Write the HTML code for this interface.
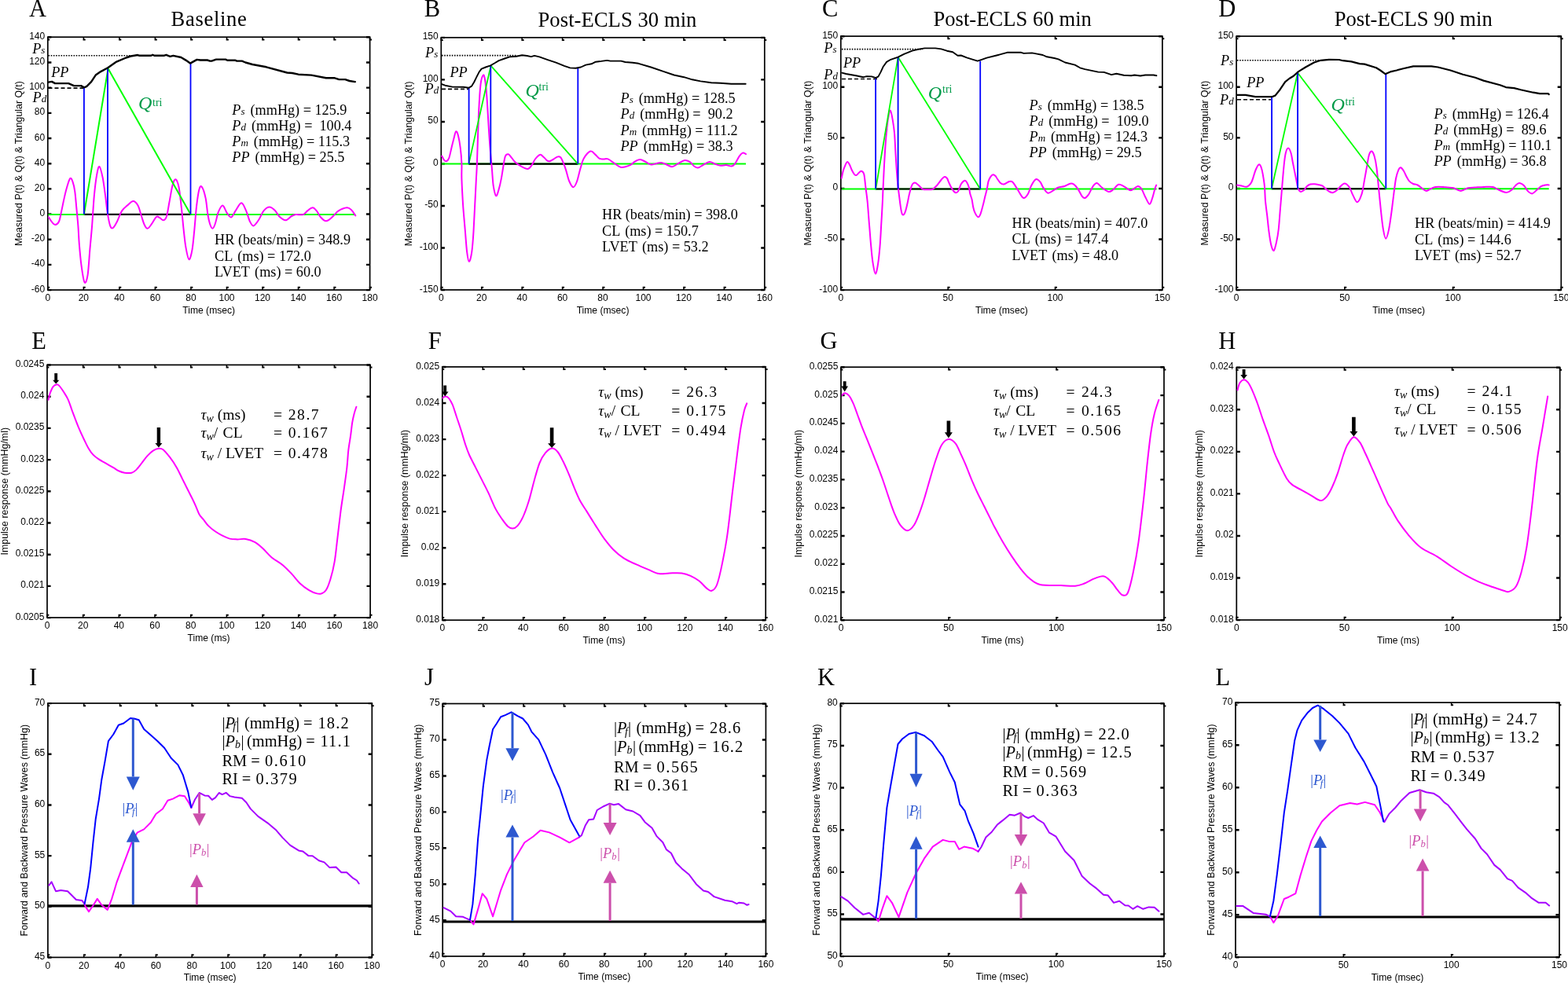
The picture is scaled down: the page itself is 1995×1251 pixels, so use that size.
<!DOCTYPE html>
<html><head><meta charset="utf-8"><title>Figure</title>
<style>
html,body{margin:0;padding:0;background:#fff;}
svg{display:block;}
.tk{font-family:"Liberation Sans", Arial, sans-serif;font-size:12px;fill:#000;}
.al{font-family:"Liberation Sans", Arial, sans-serif;font-size:12.1px;fill:#000;}
.yl{font-family:"Liberation Sans", Arial, sans-serif;font-size:12.4px;fill:#000;}
.ti{font-family:"Liberation Serif", "Times New Roman", serif;font-size:26.6px;fill:#000;}
.lt{font-family:"Liberation Serif", "Times New Roman", serif;font-size:30.5px;fill:#000;}
.an{font-family:"Liberation Serif", "Times New Roman", serif;font-size:18.2px;fill:#000;white-space:pre;}
.it{font-style:italic;}
</style></head><body>
<svg width="1995" height="1251" viewBox="0 0 1995 1251">
<rect width="1995" height="1251" fill="#fff"/>
<g id="axA"><rect x="60.8" y="47.2" width="409.8" height="321.8" fill="none" stroke="#000" stroke-width="1.7"/>
<path d="M60,369V364.8H63.2V366.8H61.6V369ZM60,47.2V51.4H63.2V49.4H61.6V47.2ZM105.53,369V364.8H108.73V366.8H107.13V369ZM105.53,47.2V51.4H108.73V49.4H107.13V47.2ZM151.07,369V364.8H154.27V366.8H152.67V369ZM151.07,47.2V51.4H154.27V49.4H152.67V47.2ZM196.6,369V364.8H199.8V366.8H198.2V369ZM196.6,47.2V51.4H199.8V49.4H198.2V47.2ZM242.13,369V364.8H245.33V366.8H243.73V369ZM242.13,47.2V51.4H245.33V49.4H243.73V47.2ZM287.67,369V364.8H290.87V366.8H289.27V369ZM287.67,47.2V51.4H290.87V49.4H289.27V47.2ZM333.2,369V364.8H336.4V366.8H334.8V369ZM333.2,47.2V51.4H336.4V49.4H334.8V47.2ZM378.73,369V364.8H381.93V366.8H380.33V369ZM378.73,47.2V51.4H381.93V49.4H380.33V47.2ZM424.27,369V364.8H427.47V366.8H425.87V369ZM424.27,47.2V51.4H427.47V49.4H425.87V47.2ZM469.8,369V364.8H473V366.8H471.4V369ZM469.8,47.2V51.4H473V49.4H471.4V47.2ZM60.8,367.9H65.4V370.3H60.8ZM470.6,367.9H466V370.3H470.6ZM60.8,335.72H65.4V338.12H60.8ZM470.6,335.72H466V338.12H470.6ZM60.8,303.54H65.4V305.94H60.8ZM470.6,303.54H466V305.94H470.6ZM60.8,271.36H65.4V273.76H60.8ZM470.6,271.36H466V273.76H470.6ZM60.8,239.18H65.4V241.58H60.8ZM470.6,239.18H466V241.58H470.6ZM60.8,207H65.4V209.4H60.8ZM470.6,207H466V209.4H470.6ZM60.8,174.82H65.4V177.22H60.8ZM470.6,174.82H466V177.22H470.6ZM60.8,142.64H65.4V145.04H60.8ZM470.6,142.64H466V145.04H470.6ZM60.8,110.46H65.4V112.86H60.8ZM470.6,110.46H466V112.86H470.6ZM60.8,78.28H65.4V80.68H60.8ZM470.6,78.28H466V80.68H470.6ZM60.8,46.1H65.4V48.5H60.8ZM470.6,46.1H466V48.5H470.6Z" fill="#000"/>
<text x="60.8" y="383.2" text-anchor="middle" class="tk">0</text>
<text x="106.33" y="383.2" text-anchor="middle" class="tk">20</text>
<text x="151.87" y="383.2" text-anchor="middle" class="tk">40</text>
<text x="197.4" y="383.2" text-anchor="middle" class="tk">60</text>
<text x="242.93" y="383.2" text-anchor="middle" class="tk">80</text>
<text x="288.47" y="383.2" text-anchor="middle" class="tk">100</text>
<text x="334" y="383.2" text-anchor="middle" class="tk">120</text>
<text x="379.53" y="383.2" text-anchor="middle" class="tk">140</text>
<text x="425.07" y="383.2" text-anchor="middle" class="tk">160</text>
<text x="470.6" y="383.2" text-anchor="middle" class="tk">180</text>
<text x="57.2" y="371.6" text-anchor="end" class="tk">-60</text>
<text x="57.2" y="339.42" text-anchor="end" class="tk">-40</text>
<text x="57.2" y="307.24" text-anchor="end" class="tk">-20</text>
<text x="57.2" y="275.06" text-anchor="end" class="tk">0</text>
<text x="57.2" y="242.88" text-anchor="end" class="tk">20</text>
<text x="57.2" y="210.7" text-anchor="end" class="tk">40</text>
<text x="57.2" y="178.52" text-anchor="end" class="tk">60</text>
<text x="57.2" y="146.34" text-anchor="end" class="tk">80</text>
<text x="57.2" y="114.16" text-anchor="end" class="tk">100</text>
<text x="57.2" y="81.98" text-anchor="end" class="tk">120</text>
<text x="57.2" y="49.8" text-anchor="end" class="tk">140</text>
<text x="265.7" y="398.6" text-anchor="middle" class="al">Time (msec)</text>
<text transform="translate(27.8,208.1) rotate(-90)" text-anchor="middle" class="yl">Measured P(t) &amp; Q(t) &amp; Triangular Q(t)</text></g>
<g id="axB"><rect x="561.3" y="47.8" width="411.5" height="321.1" fill="none" stroke="#000" stroke-width="1.7"/>
<path d="M560.5,368.9V364.7H563.7V366.7H562.1V368.9ZM560.5,47.8V52H563.7V50H562.1V47.8ZM611.94,368.9V364.7H615.14V366.7H613.54V368.9ZM611.94,47.8V52H615.14V50H613.54V47.8ZM663.38,368.9V364.7H666.57V366.7H664.97V368.9ZM663.38,47.8V52H666.57V50H664.97V47.8ZM714.81,368.9V364.7H718.01V366.7H716.41V368.9ZM714.81,47.8V52H718.01V50H716.41V47.8ZM766.25,368.9V364.7H769.45V366.7H767.85V368.9ZM766.25,47.8V52H769.45V50H767.85V47.8ZM817.69,368.9V364.7H820.89V366.7H819.29V368.9ZM817.69,47.8V52H820.89V50H819.29V47.8ZM869.12,368.9V364.7H872.32V366.7H870.72V368.9ZM869.12,47.8V52H872.32V50H870.72V47.8ZM920.56,368.9V364.7H923.76V366.7H922.16V368.9ZM920.56,47.8V52H923.76V50H922.16V47.8ZM972,368.9V364.7H975.2V366.7H973.6V368.9ZM972,47.8V52H975.2V50H973.6V47.8ZM561.3,367.8H565.9V370.2H561.3ZM972.8,367.8H968.2V370.2H972.8ZM561.3,314.28H565.9V316.68H561.3ZM972.8,314.28H968.2V316.68H972.8ZM561.3,260.77H565.9V263.17H561.3ZM972.8,260.77H968.2V263.17H972.8ZM561.3,207.25H565.9V209.65H561.3ZM972.8,207.25H968.2V209.65H972.8ZM561.3,153.73H565.9V156.13H561.3ZM972.8,153.73H968.2V156.13H972.8ZM561.3,100.22H565.9V102.62H561.3ZM972.8,100.22H968.2V102.62H972.8ZM561.3,46.7H565.9V49.1H561.3ZM972.8,46.7H968.2V49.1H972.8Z" fill="#000"/>
<text x="561.3" y="383.1" text-anchor="middle" class="tk">0</text>
<text x="612.74" y="383.1" text-anchor="middle" class="tk">20</text>
<text x="664.17" y="383.1" text-anchor="middle" class="tk">40</text>
<text x="715.61" y="383.1" text-anchor="middle" class="tk">60</text>
<text x="767.05" y="383.1" text-anchor="middle" class="tk">80</text>
<text x="818.49" y="383.1" text-anchor="middle" class="tk">100</text>
<text x="869.92" y="383.1" text-anchor="middle" class="tk">120</text>
<text x="921.36" y="383.1" text-anchor="middle" class="tk">140</text>
<text x="972.8" y="383.1" text-anchor="middle" class="tk">160</text>
<text x="557.7" y="371.5" text-anchor="end" class="tk">-150</text>
<text x="557.7" y="317.98" text-anchor="end" class="tk">-100</text>
<text x="557.7" y="264.47" text-anchor="end" class="tk">-50</text>
<text x="557.7" y="210.95" text-anchor="end" class="tk">0</text>
<text x="557.7" y="157.43" text-anchor="end" class="tk">50</text>
<text x="557.7" y="103.92" text-anchor="end" class="tk">100</text>
<text x="557.7" y="50.4" text-anchor="end" class="tk">150</text>
<text x="767.05" y="398.5" text-anchor="middle" class="al">Time (msec)</text>
<text transform="translate(524.1,208.35) rotate(-90)" text-anchor="middle" class="yl">Measured P(t) &amp; Q(t) &amp; Triangular Q(t)</text></g>
<g id="axC"><rect x="1069.8" y="46.1" width="409.1" height="322.9" fill="none" stroke="#000" stroke-width="1.7"/>
<path d="M1069,369V364.8H1072.2V366.8H1070.6V369ZM1069,46.1V50.3H1072.2V48.3H1070.6V46.1ZM1205.37,369V364.8H1208.57V366.8H1206.97V369ZM1205.37,46.1V50.3H1208.57V48.3H1206.97V46.1ZM1341.73,369V364.8H1344.93V366.8H1343.33V369ZM1341.73,46.1V50.3H1344.93V48.3H1343.33V46.1ZM1478.1,369V364.8H1481.3V366.8H1479.7V369ZM1478.1,46.1V50.3H1481.3V48.3H1479.7V46.1ZM1069.8,367.9H1074.4V370.3H1069.8ZM1478.9,367.9H1474.3V370.3H1478.9ZM1069.8,303.32H1074.4V305.72H1069.8ZM1478.9,303.32H1474.3V305.72H1478.9ZM1069.8,238.74H1074.4V241.14H1069.8ZM1478.9,238.74H1474.3V241.14H1478.9ZM1069.8,174.16H1074.4V176.56H1069.8ZM1478.9,174.16H1474.3V176.56H1478.9ZM1069.8,109.58H1074.4V111.98H1069.8ZM1478.9,109.58H1474.3V111.98H1478.9ZM1069.8,45H1074.4V47.4H1069.8ZM1478.9,45H1474.3V47.4H1478.9Z" fill="#000"/>
<text x="1069.8" y="383.2" text-anchor="middle" class="tk">0</text>
<text x="1206.17" y="383.2" text-anchor="middle" class="tk">50</text>
<text x="1342.53" y="383.2" text-anchor="middle" class="tk">100</text>
<text x="1478.9" y="383.2" text-anchor="middle" class="tk">150</text>
<text x="1066.2" y="371.6" text-anchor="end" class="tk">-100</text>
<text x="1066.2" y="307.02" text-anchor="end" class="tk">-50</text>
<text x="1066.2" y="242.44" text-anchor="end" class="tk">0</text>
<text x="1066.2" y="177.86" text-anchor="end" class="tk">50</text>
<text x="1066.2" y="113.28" text-anchor="end" class="tk">100</text>
<text x="1066.2" y="48.7" text-anchor="end" class="tk">150</text>
<text x="1274.35" y="398.6" text-anchor="middle" class="al">Time (msec)</text>
<text transform="translate(1032.4,207.55) rotate(-90)" text-anchor="middle" class="yl">Measured P(t) &amp; Q(t) &amp; Triangular Q(t)</text></g>
<g id="axD"><rect x="1573.1" y="46.1" width="413.2" height="322.9" fill="none" stroke="#000" stroke-width="1.7"/>
<path d="M1572.3,369V364.8H1575.5V366.8H1573.9V369ZM1572.3,46.1V50.3H1575.5V48.3H1573.9V46.1ZM1710.03,369V364.8H1713.23V366.8H1711.63V369ZM1710.03,46.1V50.3H1713.23V48.3H1711.63V46.1ZM1847.77,369V364.8H1850.97V366.8H1849.37V369ZM1847.77,46.1V50.3H1850.97V48.3H1849.37V46.1ZM1985.5,369V364.8H1988.7V366.8H1987.1V369ZM1985.5,46.1V50.3H1988.7V48.3H1987.1V46.1ZM1573.1,367.9H1577.7V370.3H1573.1ZM1986.3,367.9H1981.7V370.3H1986.3ZM1573.1,303.32H1577.7V305.72H1573.1ZM1986.3,303.32H1981.7V305.72H1986.3ZM1573.1,238.74H1577.7V241.14H1573.1ZM1986.3,238.74H1981.7V241.14H1986.3ZM1573.1,174.16H1577.7V176.56H1573.1ZM1986.3,174.16H1981.7V176.56H1986.3ZM1573.1,109.58H1577.7V111.98H1573.1ZM1986.3,109.58H1981.7V111.98H1986.3ZM1573.1,45H1577.7V47.4H1573.1ZM1986.3,45H1981.7V47.4H1986.3Z" fill="#000"/>
<text x="1573.1" y="383.2" text-anchor="middle" class="tk">0</text>
<text x="1710.83" y="383.2" text-anchor="middle" class="tk">50</text>
<text x="1848.57" y="383.2" text-anchor="middle" class="tk">100</text>
<text x="1986.3" y="383.2" text-anchor="middle" class="tk">150</text>
<text x="1569.5" y="371.6" text-anchor="end" class="tk">-100</text>
<text x="1569.5" y="307.02" text-anchor="end" class="tk">-50</text>
<text x="1569.5" y="242.44" text-anchor="end" class="tk">0</text>
<text x="1569.5" y="177.86" text-anchor="end" class="tk">50</text>
<text x="1569.5" y="113.28" text-anchor="end" class="tk">100</text>
<text x="1569.5" y="48.7" text-anchor="end" class="tk">150</text>
<text x="1779.7" y="398.6" text-anchor="middle" class="al">Time (msec)</text>
<text transform="translate(1537,207.55) rotate(-90)" text-anchor="middle" class="yl">Measured P(t) &amp; Q(t) &amp; Triangular Q(t)</text></g>
<g id="axE"><rect x="60" y="464.4" width="411.1" height="321.6" fill="none" stroke="#000" stroke-width="1.7"/>
<path d="M59.2,786V781.8H62.4V783.8H60.8V786ZM59.2,464.4V468.6H62.4V466.6H60.8V464.4ZM104.88,786V781.8H108.08V783.8H106.48V786ZM104.88,464.4V468.6H108.08V466.6H106.48V464.4ZM150.56,786V781.8H153.76V783.8H152.16V786ZM150.56,464.4V468.6H153.76V466.6H152.16V464.4ZM196.23,786V781.8H199.43V783.8H197.83V786ZM196.23,464.4V468.6H199.43V466.6H197.83V464.4ZM241.91,786V781.8H245.11V783.8H243.51V786ZM241.91,464.4V468.6H245.11V466.6H243.51V464.4ZM287.59,786V781.8H290.79V783.8H289.19V786ZM287.59,464.4V468.6H290.79V466.6H289.19V464.4ZM333.27,786V781.8H336.47V783.8H334.87V786ZM333.27,464.4V468.6H336.47V466.6H334.87V464.4ZM378.94,786V781.8H382.14V783.8H380.54V786ZM378.94,464.4V468.6H382.14V466.6H380.54V464.4ZM424.62,786V781.8H427.82V783.8H426.22V786ZM424.62,464.4V468.6H427.82V466.6H426.22V464.4ZM470.3,786V781.8H473.5V783.8H471.9V786ZM470.3,464.4V468.6H473.5V466.6H471.9V464.4ZM60,784.9H64.6V787.3H60ZM471.1,784.9H466.5V787.3H471.1ZM60,744.7H64.6V747.1H60ZM471.1,744.7H466.5V747.1H471.1ZM60,704.5H64.6V706.9H60ZM471.1,704.5H466.5V706.9H471.1ZM60,664.3H64.6V666.7H60ZM471.1,664.3H466.5V666.7H471.1ZM60,624.1H64.6V626.5H60ZM471.1,624.1H466.5V626.5H471.1ZM60,583.9H64.6V586.3H60ZM471.1,583.9H466.5V586.3H471.1ZM60,543.7H64.6V546.1H60ZM471.1,543.7H466.5V546.1H471.1ZM60,503.5H64.6V505.9H60ZM471.1,503.5H466.5V505.9H471.1ZM60,463.3H64.6V465.7H60ZM471.1,463.3H466.5V465.7H471.1Z" fill="#000"/>
<text x="60" y="800.2" text-anchor="middle" class="tk">0</text>
<text x="105.68" y="800.2" text-anchor="middle" class="tk">20</text>
<text x="151.36" y="800.2" text-anchor="middle" class="tk">40</text>
<text x="197.03" y="800.2" text-anchor="middle" class="tk">60</text>
<text x="242.71" y="800.2" text-anchor="middle" class="tk">80</text>
<text x="288.39" y="800.2" text-anchor="middle" class="tk">100</text>
<text x="334.07" y="800.2" text-anchor="middle" class="tk">120</text>
<text x="379.74" y="800.2" text-anchor="middle" class="tk">140</text>
<text x="425.42" y="800.2" text-anchor="middle" class="tk">160</text>
<text x="471.1" y="800.2" text-anchor="middle" class="tk">180</text>
<text x="56.4" y="788.6" text-anchor="end" class="tk">0.0205</text>
<text x="56.4" y="748.4" text-anchor="end" class="tk">0.021</text>
<text x="56.4" y="708.2" text-anchor="end" class="tk">0.0215</text>
<text x="56.4" y="668" text-anchor="end" class="tk">0.022</text>
<text x="56.4" y="627.8" text-anchor="end" class="tk">0.0225</text>
<text x="56.4" y="587.6" text-anchor="end" class="tk">0.023</text>
<text x="56.4" y="547.4" text-anchor="end" class="tk">0.0235</text>
<text x="56.4" y="507.2" text-anchor="end" class="tk">0.024</text>
<text x="56.4" y="467" text-anchor="end" class="tk">0.0245</text>
<text x="265.55" y="815.6" text-anchor="middle" class="al">Time (ms)</text>
<text transform="translate(9.9,625.2) rotate(-90)" text-anchor="middle" class="yl">Impulse response (mmHg/ml)</text></g>
<g id="axF"><rect x="562.8" y="466.9" width="411.4" height="322.3" fill="none" stroke="#000" stroke-width="1.7"/>
<path d="M562,789.2V785H565.2V787H563.6V789.2ZM562,466.9V471.1H565.2V469.1H563.6V466.9ZM613.42,789.2V785H616.62V787H615.02V789.2ZM613.42,466.9V471.1H616.62V469.1H615.02V466.9ZM664.85,789.2V785H668.05V787H666.45V789.2ZM664.85,466.9V471.1H668.05V469.1H666.45V466.9ZM716.28,789.2V785H719.48V787H717.88V789.2ZM716.28,466.9V471.1H719.48V469.1H717.88V466.9ZM767.7,789.2V785H770.9V787H769.3V789.2ZM767.7,466.9V471.1H770.9V469.1H769.3V466.9ZM819.12,789.2V785H822.32V787H820.72V789.2ZM819.12,466.9V471.1H822.32V469.1H820.72V466.9ZM870.55,789.2V785H873.75V787H872.15V789.2ZM870.55,466.9V471.1H873.75V469.1H872.15V466.9ZM921.98,789.2V785H925.18V787H923.58V789.2ZM921.98,466.9V471.1H925.18V469.1H923.58V466.9ZM973.4,789.2V785H976.6V787H975V789.2ZM973.4,466.9V471.1H976.6V469.1H975V466.9ZM562.8,788.1H567.4V790.5H562.8ZM974.2,788.1H969.6V790.5H974.2ZM562.8,742.06H567.4V744.46H562.8ZM974.2,742.06H969.6V744.46H974.2ZM562.8,696.01H567.4V698.41H562.8ZM974.2,696.01H969.6V698.41H974.2ZM562.8,649.97H567.4V652.37H562.8ZM974.2,649.97H969.6V652.37H974.2ZM562.8,603.93H567.4V606.33H562.8ZM974.2,603.93H969.6V606.33H974.2ZM562.8,557.89H567.4V560.29H562.8ZM974.2,557.89H969.6V560.29H974.2ZM562.8,511.84H567.4V514.24H562.8ZM974.2,511.84H969.6V514.24H974.2ZM562.8,465.8H567.4V468.2H562.8ZM974.2,465.8H969.6V468.2H974.2Z" fill="#000"/>
<text x="562.8" y="803.4" text-anchor="middle" class="tk">0</text>
<text x="614.22" y="803.4" text-anchor="middle" class="tk">20</text>
<text x="665.65" y="803.4" text-anchor="middle" class="tk">40</text>
<text x="717.08" y="803.4" text-anchor="middle" class="tk">60</text>
<text x="768.5" y="803.4" text-anchor="middle" class="tk">80</text>
<text x="819.92" y="803.4" text-anchor="middle" class="tk">100</text>
<text x="871.35" y="803.4" text-anchor="middle" class="tk">120</text>
<text x="922.78" y="803.4" text-anchor="middle" class="tk">140</text>
<text x="974.2" y="803.4" text-anchor="middle" class="tk">160</text>
<text x="559.2" y="791.8" text-anchor="end" class="tk">0.018</text>
<text x="559.2" y="745.76" text-anchor="end" class="tk">0.019</text>
<text x="559.2" y="699.71" text-anchor="end" class="tk">0.02</text>
<text x="559.2" y="653.67" text-anchor="end" class="tk">0.021</text>
<text x="559.2" y="607.63" text-anchor="end" class="tk">0.022</text>
<text x="559.2" y="561.59" text-anchor="end" class="tk">0.023</text>
<text x="559.2" y="515.54" text-anchor="end" class="tk">0.024</text>
<text x="559.2" y="469.5" text-anchor="end" class="tk">0.025</text>
<text x="768.5" y="818.8" text-anchor="middle" class="al">Time (ms)</text>
<text transform="translate(518.5,628.05) rotate(-90)" text-anchor="middle" class="yl">Impulse response (mmHg/ml)</text></g>
<g id="axG"><rect x="1070" y="467.2" width="411" height="322" fill="none" stroke="#000" stroke-width="1.7"/>
<path d="M1069.2,789.2V785H1072.4V787H1070.8V789.2ZM1069.2,467.2V471.4H1072.4V469.4H1070.8V467.2ZM1206.2,789.2V785H1209.4V787H1207.8V789.2ZM1206.2,467.2V471.4H1209.4V469.4H1207.8V467.2ZM1343.2,789.2V785H1346.4V787H1344.8V789.2ZM1343.2,467.2V471.4H1346.4V469.4H1344.8V467.2ZM1480.2,789.2V785H1483.4V787H1481.8V789.2ZM1480.2,467.2V471.4H1483.4V469.4H1481.8V467.2ZM1070,788.1H1074.6V790.5H1070ZM1481,788.1H1476.4V790.5H1481ZM1070,752.32H1074.6V754.72H1070ZM1481,752.32H1476.4V754.72H1481ZM1070,716.54H1074.6V718.94H1070ZM1481,716.54H1476.4V718.94H1481ZM1070,680.77H1074.6V683.17H1070ZM1481,680.77H1476.4V683.17H1481ZM1070,644.99H1074.6V647.39H1070ZM1481,644.99H1476.4V647.39H1481ZM1070,609.21H1074.6V611.61H1070ZM1481,609.21H1476.4V611.61H1481ZM1070,573.43H1074.6V575.83H1070ZM1481,573.43H1476.4V575.83H1481ZM1070,537.66H1074.6V540.06H1070ZM1481,537.66H1476.4V540.06H1481ZM1070,501.88H1074.6V504.28H1070ZM1481,501.88H1476.4V504.28H1481ZM1070,466.1H1074.6V468.5H1070ZM1481,466.1H1476.4V468.5H1481Z" fill="#000"/>
<text x="1070" y="803.4" text-anchor="middle" class="tk">0</text>
<text x="1207" y="803.4" text-anchor="middle" class="tk">50</text>
<text x="1344" y="803.4" text-anchor="middle" class="tk">100</text>
<text x="1481" y="803.4" text-anchor="middle" class="tk">150</text>
<text x="1066.4" y="791.8" text-anchor="end" class="tk">0.021</text>
<text x="1066.4" y="756.02" text-anchor="end" class="tk">0.0215</text>
<text x="1066.4" y="720.24" text-anchor="end" class="tk">0.022</text>
<text x="1066.4" y="684.47" text-anchor="end" class="tk">0.0225</text>
<text x="1066.4" y="648.69" text-anchor="end" class="tk">0.023</text>
<text x="1066.4" y="612.91" text-anchor="end" class="tk">0.0235</text>
<text x="1066.4" y="577.13" text-anchor="end" class="tk">0.024</text>
<text x="1066.4" y="541.36" text-anchor="end" class="tk">0.0245</text>
<text x="1066.4" y="505.58" text-anchor="end" class="tk">0.025</text>
<text x="1066.4" y="469.8" text-anchor="end" class="tk">0.0255</text>
<text x="1275.5" y="818.8" text-anchor="middle" class="al">Time (ms)</text>
<text transform="translate(1019.6,628.2) rotate(-90)" text-anchor="middle" class="yl">Impulse response (mmHg/ml)</text></g>
<g id="axH"><rect x="1573.3" y="467.6" width="411.4" height="321.4" fill="none" stroke="#000" stroke-width="1.7"/>
<path d="M1572.5,789V784.8H1575.7V786.8H1574.1V789ZM1572.5,467.6V471.8H1575.7V469.8H1574.1V467.6ZM1709.63,789V784.8H1712.83V786.8H1711.23V789ZM1709.63,467.6V471.8H1712.83V469.8H1711.23V467.6ZM1846.77,789V784.8H1849.97V786.8H1848.37V789ZM1846.77,467.6V471.8H1849.97V469.8H1848.37V467.6ZM1983.9,789V784.8H1987.1V786.8H1985.5V789ZM1983.9,467.6V471.8H1987.1V469.8H1985.5V467.6ZM1573.3,787.9H1577.9V790.3H1573.3ZM1984.7,787.9H1980.1V790.3H1984.7ZM1573.3,734.33H1577.9V736.73H1573.3ZM1984.7,734.33H1980.1V736.73H1984.7ZM1573.3,680.77H1577.9V683.17H1573.3ZM1984.7,680.77H1980.1V683.17H1984.7ZM1573.3,627.2H1577.9V629.6H1573.3ZM1984.7,627.2H1980.1V629.6H1984.7ZM1573.3,573.63H1577.9V576.03H1573.3ZM1984.7,573.63H1980.1V576.03H1984.7ZM1573.3,520.07H1577.9V522.47H1573.3ZM1984.7,520.07H1980.1V522.47H1984.7ZM1573.3,466.5H1577.9V468.9H1573.3ZM1984.7,466.5H1980.1V468.9H1984.7Z" fill="#000"/>
<text x="1573.3" y="803.2" text-anchor="middle" class="tk">0</text>
<text x="1710.43" y="803.2" text-anchor="middle" class="tk">50</text>
<text x="1847.57" y="803.2" text-anchor="middle" class="tk">100</text>
<text x="1984.7" y="803.2" text-anchor="middle" class="tk">150</text>
<text x="1569.7" y="791.6" text-anchor="end" class="tk">0.018</text>
<text x="1569.7" y="738.03" text-anchor="end" class="tk">0.019</text>
<text x="1569.7" y="684.47" text-anchor="end" class="tk">0.02</text>
<text x="1569.7" y="630.9" text-anchor="end" class="tk">0.021</text>
<text x="1569.7" y="577.33" text-anchor="end" class="tk">0.022</text>
<text x="1569.7" y="523.77" text-anchor="end" class="tk">0.023</text>
<text x="1569.7" y="470.2" text-anchor="end" class="tk">0.024</text>
<text x="1779" y="818.6" text-anchor="middle" class="al">Time (ms)</text>
<text transform="translate(1529.6,628.3) rotate(-90)" text-anchor="middle" class="yl">Impulse response (mmHg/ml)</text></g>
<g id="axI"><rect x="60.9" y="895" width="412.4" height="323.4" fill="none" stroke="#000" stroke-width="1.7"/>
<path d="M60.1,1218.4V1214.2H63.3V1216.2H61.7V1218.4ZM60.1,895V899.2H63.3V897.2H61.7V895ZM105.92,1218.4V1214.2H109.12V1216.2H107.52V1218.4ZM105.92,895V899.2H109.12V897.2H107.52V895ZM151.74,1218.4V1214.2H154.94V1216.2H153.34V1218.4ZM151.74,895V899.2H154.94V897.2H153.34V895ZM197.57,1218.4V1214.2H200.77V1216.2H199.17V1218.4ZM197.57,895V899.2H200.77V897.2H199.17V895ZM243.39,1218.4V1214.2H246.59V1216.2H244.99V1218.4ZM243.39,895V899.2H246.59V897.2H244.99V895ZM289.21,1218.4V1214.2H292.41V1216.2H290.81V1218.4ZM289.21,895V899.2H292.41V897.2H290.81V895ZM335.03,1218.4V1214.2H338.23V1216.2H336.63V1218.4ZM335.03,895V899.2H338.23V897.2H336.63V895ZM380.86,1218.4V1214.2H384.06V1216.2H382.46V1218.4ZM380.86,895V899.2H384.06V897.2H382.46V895ZM426.68,1218.4V1214.2H429.88V1216.2H428.28V1218.4ZM426.68,895V899.2H429.88V897.2H428.28V895ZM472.5,1218.4V1214.2H475.7V1216.2H474.1V1218.4ZM472.5,895V899.2H475.7V897.2H474.1V895ZM60.9,1217.3H65.5V1219.7H60.9ZM473.3,1217.3H468.7V1219.7H473.3ZM60.9,1152.62H65.5V1155.02H60.9ZM473.3,1152.62H468.7V1155.02H473.3ZM60.9,1087.94H65.5V1090.34H60.9ZM473.3,1087.94H468.7V1090.34H473.3ZM60.9,1023.26H65.5V1025.66H60.9ZM473.3,1023.26H468.7V1025.66H473.3ZM60.9,958.58H65.5V960.98H60.9ZM473.3,958.58H468.7V960.98H473.3ZM60.9,893.9H65.5V896.3H60.9ZM473.3,893.9H468.7V896.3H473.3Z" fill="#000"/>
<text x="60.9" y="1232.6" text-anchor="middle" class="tk">0</text>
<text x="106.72" y="1232.6" text-anchor="middle" class="tk">20</text>
<text x="152.54" y="1232.6" text-anchor="middle" class="tk">40</text>
<text x="198.37" y="1232.6" text-anchor="middle" class="tk">60</text>
<text x="244.19" y="1232.6" text-anchor="middle" class="tk">80</text>
<text x="290.01" y="1232.6" text-anchor="middle" class="tk">100</text>
<text x="335.83" y="1232.6" text-anchor="middle" class="tk">120</text>
<text x="381.66" y="1232.6" text-anchor="middle" class="tk">140</text>
<text x="427.48" y="1232.6" text-anchor="middle" class="tk">160</text>
<text x="473.3" y="1232.6" text-anchor="middle" class="tk">180</text>
<text x="57.3" y="1221" text-anchor="end" class="tk">45</text>
<text x="57.3" y="1156.32" text-anchor="end" class="tk">50</text>
<text x="57.3" y="1091.64" text-anchor="end" class="tk">55</text>
<text x="57.3" y="1026.96" text-anchor="end" class="tk">60</text>
<text x="57.3" y="962.28" text-anchor="end" class="tk">65</text>
<text x="57.3" y="897.6" text-anchor="end" class="tk">70</text>
<text x="267.1" y="1248" text-anchor="middle" class="al">Time (msec)</text>
<text transform="translate(34.6,1056.7) rotate(-90)" text-anchor="middle" class="yl">Forward and Backward Pressure Waves (mmHg)</text></g>
<g id="axJ"><rect x="563.2" y="895.5" width="411.2" height="321.5" fill="none" stroke="#000" stroke-width="1.7"/>
<path d="M562.4,1217V1212.8H565.6V1214.8H564V1217ZM562.4,895.5V899.7H565.6V897.7H564V895.5ZM613.8,1217V1212.8H617V1214.8H615.4V1217ZM613.8,895.5V899.7H617V897.7H615.4V895.5ZM665.2,1217V1212.8H668.4V1214.8H666.8V1217ZM665.2,895.5V899.7H668.4V897.7H666.8V895.5ZM716.6,1217V1212.8H719.8V1214.8H718.2V1217ZM716.6,895.5V899.7H719.8V897.7H718.2V895.5ZM768,1217V1212.8H771.2V1214.8H769.6V1217ZM768,895.5V899.7H771.2V897.7H769.6V895.5ZM819.4,1217V1212.8H822.6V1214.8H821V1217ZM819.4,895.5V899.7H822.6V897.7H821V895.5ZM870.8,1217V1212.8H874V1214.8H872.4V1217ZM870.8,895.5V899.7H874V897.7H872.4V895.5ZM922.2,1217V1212.8H925.4V1214.8H923.8V1217ZM922.2,895.5V899.7H925.4V897.7H923.8V895.5ZM973.6,1217V1212.8H976.8V1214.8H975.2V1217ZM973.6,895.5V899.7H976.8V897.7H975.2V895.5ZM563.2,1215.9H567.8V1218.3H563.2ZM974.4,1215.9H969.8V1218.3H974.4ZM563.2,1169.97H567.8V1172.37H563.2ZM974.4,1169.97H969.8V1172.37H974.4ZM563.2,1124.04H567.8V1126.44H563.2ZM974.4,1124.04H969.8V1126.44H974.4ZM563.2,1078.11H567.8V1080.51H563.2ZM974.4,1078.11H969.8V1080.51H974.4ZM563.2,1032.19H567.8V1034.59H563.2ZM974.4,1032.19H969.8V1034.59H974.4ZM563.2,986.26H567.8V988.66H563.2ZM974.4,986.26H969.8V988.66H974.4ZM563.2,940.33H567.8V942.73H563.2ZM974.4,940.33H969.8V942.73H974.4ZM563.2,894.4H567.8V896.8H563.2ZM974.4,894.4H969.8V896.8H974.4Z" fill="#000"/>
<text x="563.2" y="1231.2" text-anchor="middle" class="tk">0</text>
<text x="614.6" y="1231.2" text-anchor="middle" class="tk">20</text>
<text x="666" y="1231.2" text-anchor="middle" class="tk">40</text>
<text x="717.4" y="1231.2" text-anchor="middle" class="tk">60</text>
<text x="768.8" y="1231.2" text-anchor="middle" class="tk">80</text>
<text x="820.2" y="1231.2" text-anchor="middle" class="tk">100</text>
<text x="871.6" y="1231.2" text-anchor="middle" class="tk">120</text>
<text x="923" y="1231.2" text-anchor="middle" class="tk">140</text>
<text x="974.4" y="1231.2" text-anchor="middle" class="tk">160</text>
<text x="559.6" y="1219.6" text-anchor="end" class="tk">40</text>
<text x="559.6" y="1173.67" text-anchor="end" class="tk">45</text>
<text x="559.6" y="1127.74" text-anchor="end" class="tk">50</text>
<text x="559.6" y="1081.81" text-anchor="end" class="tk">55</text>
<text x="559.6" y="1035.89" text-anchor="end" class="tk">60</text>
<text x="559.6" y="989.96" text-anchor="end" class="tk">65</text>
<text x="559.6" y="944.03" text-anchor="end" class="tk">70</text>
<text x="559.6" y="898.1" text-anchor="end" class="tk">75</text>
<text x="768.8" y="1246.6" text-anchor="middle" class="al">Time (msec)</text>
<text transform="translate(536.3,1056.25) rotate(-90)" text-anchor="middle" class="yl">Forward and Backward Pressure Waves (mmHg)</text></g>
<g id="axK"><rect x="1069.4" y="895.2" width="411.6" height="321.8" fill="none" stroke="#000" stroke-width="1.7"/>
<path d="M1068.6,1217V1212.8H1071.8V1214.8H1070.2V1217ZM1068.6,895.2V899.4H1071.8V897.4H1070.2V895.2ZM1205.8,1217V1212.8H1209V1214.8H1207.4V1217ZM1205.8,895.2V899.4H1209V897.4H1207.4V895.2ZM1343,1217V1212.8H1346.2V1214.8H1344.6V1217ZM1343,895.2V899.4H1346.2V897.4H1344.6V895.2ZM1480.2,1217V1212.8H1483.4V1214.8H1481.8V1217ZM1480.2,895.2V899.4H1483.4V897.4H1481.8V895.2ZM1069.4,1215.9H1074V1218.3H1069.4ZM1481,1215.9H1476.4V1218.3H1481ZM1069.4,1162.27H1074V1164.67H1069.4ZM1481,1162.27H1476.4V1164.67H1481ZM1069.4,1108.63H1074V1111.03H1069.4ZM1481,1108.63H1476.4V1111.03H1481ZM1069.4,1055H1074V1057.4H1069.4ZM1481,1055H1476.4V1057.4H1481ZM1069.4,1001.37H1074V1003.77H1069.4ZM1481,1001.37H1476.4V1003.77H1481ZM1069.4,947.73H1074V950.13H1069.4ZM1481,947.73H1476.4V950.13H1481ZM1069.4,894.1H1074V896.5H1069.4ZM1481,894.1H1476.4V896.5H1481Z" fill="#000"/>
<text x="1069.4" y="1231.2" text-anchor="middle" class="tk">0</text>
<text x="1206.6" y="1231.2" text-anchor="middle" class="tk">50</text>
<text x="1343.8" y="1231.2" text-anchor="middle" class="tk">100</text>
<text x="1481" y="1231.2" text-anchor="middle" class="tk">150</text>
<text x="1065.8" y="1219.6" text-anchor="end" class="tk">50</text>
<text x="1065.8" y="1165.97" text-anchor="end" class="tk">55</text>
<text x="1065.8" y="1112.33" text-anchor="end" class="tk">60</text>
<text x="1065.8" y="1058.7" text-anchor="end" class="tk">65</text>
<text x="1065.8" y="1005.07" text-anchor="end" class="tk">70</text>
<text x="1065.8" y="951.43" text-anchor="end" class="tk">75</text>
<text x="1065.8" y="897.8" text-anchor="end" class="tk">80</text>
<text x="1275.2" y="1246.6" text-anchor="middle" class="al">Time (msec)</text>
<text transform="translate(1043,1056.1) rotate(-90)" text-anchor="middle" class="yl">Forward and Backward Pressure Waves (mmHg)</text></g>
<g id="axL"><rect x="1572" y="894.1" width="412" height="324" fill="none" stroke="#000" stroke-width="1.7"/>
<path d="M1571.2,1218.1V1213.9H1574.4V1215.9H1572.8V1218.1ZM1571.2,894.1V898.3H1574.4V896.3H1572.8V894.1ZM1708.53,1218.1V1213.9H1711.73V1215.9H1710.13V1218.1ZM1708.53,894.1V898.3H1711.73V896.3H1710.13V894.1ZM1845.87,1218.1V1213.9H1849.07V1215.9H1847.47V1218.1ZM1845.87,894.1V898.3H1849.07V896.3H1847.47V894.1ZM1983.2,1218.1V1213.9H1986.4V1215.9H1984.8V1218.1ZM1983.2,894.1V898.3H1986.4V896.3H1984.8V894.1ZM1572,1217H1576.6V1219.4H1572ZM1984,1217H1979.4V1219.4H1984ZM1572,1163H1576.6V1165.4H1572ZM1984,1163H1979.4V1165.4H1984ZM1572,1109H1576.6V1111.4H1572ZM1984,1109H1979.4V1111.4H1984ZM1572,1055H1576.6V1057.4H1572ZM1984,1055H1979.4V1057.4H1984ZM1572,1001H1576.6V1003.4H1572ZM1984,1001H1979.4V1003.4H1984ZM1572,947H1576.6V949.4H1572ZM1984,947H1979.4V949.4H1984ZM1572,893H1576.6V895.4H1572ZM1984,893H1979.4V895.4H1984Z" fill="#000"/>
<text x="1572" y="1232.3" text-anchor="middle" class="tk">0</text>
<text x="1709.33" y="1232.3" text-anchor="middle" class="tk">50</text>
<text x="1846.67" y="1232.3" text-anchor="middle" class="tk">100</text>
<text x="1984" y="1232.3" text-anchor="middle" class="tk">150</text>
<text x="1568.4" y="1220.7" text-anchor="end" class="tk">40</text>
<text x="1568.4" y="1166.7" text-anchor="end" class="tk">45</text>
<text x="1568.4" y="1112.7" text-anchor="end" class="tk">50</text>
<text x="1568.4" y="1058.7" text-anchor="end" class="tk">55</text>
<text x="1568.4" y="1004.7" text-anchor="end" class="tk">60</text>
<text x="1568.4" y="950.7" text-anchor="end" class="tk">65</text>
<text x="1568.4" y="896.7" text-anchor="end" class="tk">70</text>
<text x="1778" y="1247.7" text-anchor="middle" class="al">Time (msec)</text>
<text transform="translate(1545.2,1056.1) rotate(-90)" text-anchor="middle" class="yl">Forward and Backward Pressure Waves (mmHg)</text></g>
<text x="217.6" y="32.8" class="ti" textLength="96.3" lengthAdjust="spacing">Baseline</text>
<text x="684.5" y="33.5" class="ti" textLength="201.9" lengthAdjust="spacing">Post-ECLS 30 min</text>
<text x="1187.4" y="33.1" class="ti" textLength="201.5" lengthAdjust="spacing">Post-ECLS 60 min</text>
<text x="1697.7" y="33.1" class="ti" textLength="201.0" lengthAdjust="spacing">Post-ECLS 90 min</text>
<text x="37.1" y="20.6" class="lt">A</text>
<text x="539.8" y="20.6" class="lt">B</text>
<text x="1045.9" y="20.6" class="lt">C</text>
<text x="1550.3" y="20.6" class="lt">D</text>
<text x="40.3" y="443.6" class="lt">E</text>
<text x="544.8" y="443.6" class="lt">F</text>
<text x="1043.6" y="443.6" class="lt">G</text>
<text x="1550.3" y="443.6" class="lt">H</text>
<text x="37.0" y="872.2" class="lt">I</text>
<text x="540.1" y="872.2" class="lt">J</text>
<text x="1040.1" y="872.2" class="lt">K</text>
<text x="1546.4" y="872.2" class="lt">L</text>
<g id="cA"><line x1="61.5" y1="70.8" x2="166" y2="70.8" stroke="#000" stroke-width="1.6" stroke-dasharray="1.6 1.6"/>
<line x1="61.5" y1="112.1" x2="106" y2="112.1" stroke="#000" stroke-width="1.6" stroke-dasharray="5 3"/>
<line x1="61.5" y1="273" x2="452.3" y2="273" stroke="#00ff00" stroke-width="2.2" />
<line x1="106.9" y1="272.8" x2="242.5" y2="272.8" stroke="#000" stroke-width="2.2" />
<path d="M62,276.5C62.7,277.5 64.7,281 66.1,282.6C67.5,284.2 68.7,286.1 70.2,286C71.7,285.9 73.8,284.5 75,282C76.2,279.5 76.6,276.1 77.7,271.1C78.8,266.1 80.5,257.5 81.7,252.1C82.9,246.7 83.8,242.7 85.1,238.5C86.3,234.3 88,228 89.2,226.9C90.5,225.8 91.6,228.9 92.6,231.7C93.6,234.5 94.5,238.2 95.3,243.9C96.1,249.6 96.7,258.4 97.4,265.7C98.1,272.9 98.8,279.9 99.4,287.4C100,294.9 100.1,302.1 100.8,310.5C101.5,318.9 102.4,329.6 103.5,337.7C104.6,345.8 106.2,357.4 107.6,359.4C108.9,361.4 110.5,356.9 111.6,349.9C112.7,342.9 113.5,327.7 114.4,317.3C115.3,306.9 116.2,298.7 117.1,287.4C118,276.1 118.8,260.3 119.8,249.4C120.8,238.5 122.1,228.4 123.2,222.2C124.3,216 125.3,211.3 126.6,212C127.8,212.7 129.4,220.1 130.7,226.3C131.9,232.5 133.1,241.9 134.1,249.4C135.1,256.9 135.8,264.8 136.8,271.1C137.8,277.4 139.1,284.2 140.2,287.4C141.3,290.6 142.2,290.8 143.6,290.1C144.9,289.4 146.4,286.9 148.3,283.3C150.2,279.7 152.8,272 155.1,268.4C157.4,264.8 159.5,263.7 161.9,261.6C164.3,259.6 167.1,256.1 169.4,256.1C171.7,256.1 173.8,258.7 175.5,261.6C177.2,264.6 178.2,269.7 179.6,273.8C181,277.9 182.3,283.2 183.7,286C185,288.8 186.1,291 187.7,290.8C189.3,290.6 191.3,287.2 193.2,284.7C195.1,282.2 197.4,277.1 199.1,275.9C200.8,274.6 201.7,276.5 203.2,277.2C204.7,277.9 206.4,280.6 207.9,280.3C209.4,280 210.8,279 212,275.2C213.2,271.4 214.2,264.1 215.4,257.5C216.7,250.9 218.2,240.7 219.5,235.8C220.8,230.9 222.2,227.9 223.5,228.3C224.8,228.8 226.3,232.3 227.6,238.5C228.8,244.7 230,256.6 231,265.7C232,274.8 232.8,284.6 233.7,292.8C234.6,301 235.3,308.4 236.4,314.6C237.5,320.8 239.1,329.8 240.5,330.2C241.9,330.6 243.5,323.5 244.6,317.3C245.7,311.1 246.4,301.9 247.3,292.8C248.2,283.7 249,271.5 250,262.9C251,254.3 252.3,245.4 253.4,241.2C254.5,237 255.4,236 256.8,237.8C258.2,239.6 260.4,246.3 261.6,252.1C262.9,257.9 263.4,267.1 264.3,272.5C265.2,277.9 266,281.6 267,284.7C268,287.8 269.3,290.8 270.4,290.8C271.5,290.8 272.6,288.2 273.8,284.7C275.1,281.2 276.3,273.5 277.9,269.7C279.5,265.9 281.5,261.4 283.3,261.6C285.1,261.8 287,268.6 288.8,271.1C290.6,273.6 292.4,276.9 294.2,276.5C296,276.1 297.5,271.4 299.6,268.4C301.8,265.3 304.8,258.2 307.1,258.2C309.4,258.2 311.4,264.4 313.2,268.4C315,272.4 316.4,278.8 318,282C319.6,285.2 320.8,287.8 322.7,287.4C324.6,286.9 327.4,282.5 329.5,279.3C331.6,276.1 333.2,271 335.4,268.4C337.6,265.8 340.4,263.6 342.9,263.6C345.4,263.6 348.4,266.5 350.4,268.4C352.4,270.3 353,273.2 355.1,275.2C357.2,277.2 360.7,280.3 363.3,280.3C365.9,280.3 368.7,276.4 370.8,275.2C372.9,274 373.7,273.5 376.2,273.1C378.7,272.8 383.2,273.9 385.7,273.1C388.2,272.3 389.1,269.9 391.1,268.4C393.1,266.9 395.8,264.2 397.9,264.3C399.9,264.4 401.8,267.2 403.4,269.1C405,271 405.6,273.9 407.5,275.9C409.4,277.9 412.2,281.4 414.9,281.3C417.6,281.2 421.2,277.4 423.8,275.2C426.4,273 427.7,270.2 430.6,268.4C433.5,266.6 438.7,264.5 441.4,264.3C444.1,264.1 445.1,265.3 446.9,267C448.7,268.7 451.4,273.2 452.3,274.5" fill="none" stroke="#ff00ff" stroke-width="2.0" stroke-linejoin="round" stroke-linecap="round" />
<path d="M106.9,272.8 L137.5,87.3 L242.5,272.8" fill="none" stroke="#00ff00" stroke-width="2.0" stroke-linejoin="round" stroke-linecap="round" />
<line x1="106.9" y1="111.5" x2="106.9" y2="272.8" stroke="#0000ff" stroke-width="1.8" />
<line x1="137" y1="87.5" x2="137" y2="272.8" stroke="#0000ff" stroke-width="1.8" />
<line x1="242.5" y1="80.8" x2="242.5" y2="272.8" stroke="#0000ff" stroke-width="1.8" />
<path d="M61.5,104.6 L66,103.9 L70,106.1 L87.1,106.1 L94.1,109.1 L103.1,109.1 L106.9,111.3 L110.1,110.1 L116.1,104.1 L121.7,95.6 L128.2,91.1 L137.2,86.3 L148.2,78.6 L160.3,73.5 L166.3,71.5 L175.3,70 L177.3,70.8 L192.3,70.8 L194.3,69.8 L196.3,70.8 L208.4,70.8 L211.4,69.8 L216.4,71.8 L220.4,70.8 L230.4,73 L236.4,76.6 L242,80.6 L250.5,75.9 L255,76.5 L263.8,76.5 L267.1,77.6 L269.3,77.6 L274.9,75.6 L287,75.6 L289.2,76.7 L299.1,76.7 L301.3,77.6 L307.9,77.6 L312.3,79.5 L321.2,82 L338.8,85.3 L365.3,92.5 L371.9,93 L379.6,94.7 L396.2,95.6 L414.9,99.3 L425.9,99.3 L431.4,101.1 L439.2,101.1 L444.7,103 L451.8,104.1" fill="none" stroke="#000" stroke-width="2.4" stroke-linejoin="round" stroke-linecap="round" />
<text x="41.2" y="68.3" class="an" ><tspan class="it">P</tspan><tspan class="it" font-size="13">s</tspan></text>
<text x="65.2" y="97.8" class="an" ><tspan class="it">PP</tspan></text>
<text x="41.6" y="129.9" class="an" ><tspan class="it">P</tspan><tspan class="it" font-size="13">d</tspan></text>
<text x="295.3" y="145.7" class="an" ><tspan class="it">P</tspan><tspan class="it" font-size="13">s</tspan><tspan dx="2.5"> (mmHg) = 125.9</tspan></text>
<text x="295.3" y="165.8" class="an" ><tspan class="it">P</tspan><tspan class="it" font-size="13">d</tspan><tspan dx="2.5"> (mmHg) =  100.4</tspan></text>
<text x="295.3" y="186.3" class="an" ><tspan class="it">P</tspan><tspan class="it" font-size="13">m</tspan><tspan dx="2.5"> (mmHg) = 115.3</tspan></text>
<text x="295.3" y="206.4" class="an" ><tspan class="it">PP</tspan><tspan dx="2.5"> (mmHg) = 25.5</tspan></text>
<text x="273.1" y="311" class="an" >HR (beats/min) = 348.9</text>
<text x="273.1" y="331.9" class="an" >CL<tspan dx="2"> (ms) = 172.0</tspan></text>
<text x="273.1" y="352.4" class="an" >LVET<tspan dx="2"> (ms) = 60.0</tspan></text>
<text x="176" y="139" class="an" style="font-style:italic;font-size:24px;fill:#009a48">Q</text><text x="194" y="134.5" class="an" style="font-size:14px;fill:#009a48">tri</text></g>
<g id="cB"><line x1="562" y1="70.6" x2="657" y2="70.6" stroke="#000" stroke-width="1.6" stroke-dasharray="1.6 1.6"/>
<line x1="562" y1="113.4" x2="597" y2="113.4" stroke="#000" stroke-width="1.6" stroke-dasharray="5 3"/>
<line x1="562" y1="208.6" x2="949" y2="208.6" stroke="#00ff00" stroke-width="2.0" />
<line x1="596.4" y1="208.6" x2="735.3" y2="208.6" stroke="#000" stroke-width="2.2" />
<path d="M562.2,198.6C562.7,199.4 564.1,202.5 565,203.6C565.9,204.7 566.8,205.7 567.8,205.3C568.8,204.9 570.1,204.3 571.2,201.4C572.3,198.5 573.5,192.1 574.5,188C575.5,183.9 576.4,180.2 577.3,176.8C578.2,173.4 579.2,168.1 580.1,167.3C581,166.6 582,168.9 582.9,172.3C583.8,175.8 585,182 585.7,188C586.5,194 587.1,201.5 587.4,208.1C587.7,214.7 587.1,218.6 587.4,227.4C587.7,236.2 588.4,249.8 589.1,261C589.9,272.2 591.1,284.6 591.9,294.5C592.7,304.4 593.3,313.9 594.1,320.3C594.9,326.7 595.9,333.1 596.9,333.1C597.9,333.1 599.4,326.7 600.3,320.3C601.2,313.9 601.9,304.4 602.5,294.5C603.1,284.6 603.6,272.2 604.2,261C604.8,249.8 605.4,236.7 605.9,227.4C606.4,218.1 606.5,219.4 607,205C607.5,190.6 608.5,157.3 609.2,141C610,124.7 610.6,115 611.5,107.4C612.4,99.8 613.9,96.5 614.8,95.6C615.7,94.7 616.4,97.4 617.1,101.8C617.9,106.2 618.6,112.6 619.3,121.9C620,131.2 620.8,146.1 621.5,157.7C622.2,169.3 623,181.6 623.8,191.3C624.5,201 625.4,208.5 626,216C626.6,223.5 626.9,230.8 627.7,236.3C628.6,241.8 630,248.3 631.1,249.2C632.2,250.1 633.3,245.5 634.4,241.9C635.5,238.3 636.9,232.1 637.8,227.4C638.7,222.8 639.2,218.7 640,214C640.8,209.3 641.7,202 642.8,199.1C643.9,196.2 645.4,196.1 646.7,196.3C648,196.5 649.2,198.7 650.6,200.3C652,201.9 653,204 655.1,205.9C657.2,207.8 660.3,210.1 663,211.6C665.7,213.1 669.1,215.2 671.3,215C673.5,214.8 674.8,212.6 676.4,210.5C678,208.4 679.1,204.8 680.9,202.5C682.7,200.2 685.1,197.3 687,196.9C688.9,196.5 690.4,199 692,200.3C693.6,201.6 695.3,203.9 696.5,204.7C697.7,205.5 698.1,205.5 699.2,205.2C700.4,204.9 701.8,204 703.4,203.1C705,202.2 707.4,200.1 709,199.6C710.6,199.1 711.9,199 713.2,200.3C714.5,201.6 715.6,204.5 716.8,207.3C718,210.1 719.1,213.2 720.3,217.1C721.5,221 722.7,227 724.2,230.5C725.7,234 727.7,238.1 729.3,238.2C730.9,238.3 732.5,235 734,231C735.5,227 737,219.2 738.5,214.3C740,209.4 740.6,205.3 742.7,201.7C744.8,198.1 748.8,193.4 751.1,192.5C753.5,191.6 754.9,194.6 756.8,196.1C758.7,197.6 760.5,200.6 762.4,201.7C764.3,202.8 766.1,202.3 768,202.4C769.9,202.5 771.3,201.5 773.6,202.4C775.9,203.3 779.2,206.2 782,208C784.8,209.8 787.1,212.6 790.4,212.9C793.7,213.2 798.9,211.3 801.7,210.1C804.5,208.9 805.2,207.1 807.3,205.9C809.4,204.7 812,203.1 814.3,203.1C816.6,203.1 819,204.8 821.3,205.9C823.6,207 825.9,209.1 828.3,209.4C830.6,209.8 833.3,208.4 835.4,208C837.5,207.6 839.1,206.9 841,207C842.9,207.1 844.3,207.8 846.6,208.7C848.9,209.6 852.4,212.2 855,212.2C857.6,212.2 859.4,210 862,208.7C864.6,207.4 867.8,204.7 870.4,204.2C873,203.7 875.4,204.7 877.5,205.9C879.6,207.1 881.4,210.2 883.1,211.5C884.9,212.8 886.1,213.8 888,213.6C889.9,213.4 891.8,211.4 894.3,210.1C896.8,208.8 900.1,206.1 902.7,205.9C905.3,205.7 907.4,207.9 909.7,208.7C912.1,209.5 914.4,210.6 916.8,210.8C919.1,211 921.5,210 923.8,210.1C926.1,210.2 928.9,211.7 930.8,211.5C932.7,211.3 933.4,210.8 935,208.7C936.6,206.6 939,201.2 940.6,198.9C942.2,196.6 943.4,195.1 944.8,194.6C946.2,194.1 948.3,195.8 949,196.1" fill="none" stroke="#ff00ff" stroke-width="2.0" stroke-linejoin="round" stroke-linecap="round" />
<path d="M596.4,208.6 L624.5,83.6 L735.3,208.6" fill="none" stroke="#00ff00" stroke-width="1.8" stroke-linejoin="round" stroke-linecap="round" />
<line x1="596.6" y1="111.8" x2="596.6" y2="208.6" stroke="#0000ff" stroke-width="1.8" />
<line x1="624.3" y1="84" x2="624.3" y2="208.6" stroke="#0000ff" stroke-width="1.8" />
<line x1="735.3" y1="86.7" x2="735.3" y2="208.6" stroke="#0000ff" stroke-width="1.8" />
<path d="M562.1,107.1 L566.3,108.7 L575.8,110.6 L589.5,110.8 L596.3,111.8 L600,109.7 L603.2,104.5 L606.3,98.2 L609.5,91.8 L612.6,87.6 L617.9,85.5 L624.2,83.4 L629.5,80.3 L634.7,77.1 L642.1,74.5 L648.4,72.4 L656.8,71.8 L664.2,70.3 L670.5,71 L675.8,72.1 L680,70.8 L686.3,72.4 L696.8,76.1 L707.4,79.7 L717.9,83.9 L725.3,86.4 L732.6,86.8 L739,85.5 L745.3,82.6 L752.6,81.3 L757.9,78.7 L765,77.9 L772.4,76.9 L776.6,77.6 L790.3,77.6 L795.5,79 L805,79.7 L812.4,80.8 L828.2,85.5 L843.9,90.8 L857.6,95.5 L870.3,98.2 L880.8,101.3 L891.3,103.4 L905,105.3 L916.6,105.7 L930.3,106.8 L948.7,106.8" fill="none" stroke="#000" stroke-width="1.9" stroke-linejoin="round" stroke-linecap="round" />
<text x="541.1" y="72.8" class="an" ><tspan class="it">P</tspan><tspan class="it" font-size="13">s</tspan></text>
<text x="572.5" y="97.8" class="an" ><tspan class="it">PP</tspan></text>
<text x="540.6" y="118.9" class="an" ><tspan class="it">P</tspan><tspan class="it" font-size="13">d</tspan></text>
<text x="668.4" y="122.7" class="an" style="font-style:italic;font-size:24px;fill:#009a48">Q</text><text x="685.5" y="114.6" class="an" style="font-size:14px;fill:#009a48">tri</text>
<text x="789.5" y="131.4" class="an" ><tspan class="it">P</tspan><tspan class="it" font-size="13">s</tspan><tspan dx="2.5"> (mmHg) = 128.5</tspan></text>
<text x="789.5" y="151.4" class="an" ><tspan class="it">P</tspan><tspan class="it" font-size="13">d</tspan><tspan dx="2.5"> (mmHg) =  90.2</tspan></text>
<text x="789.5" y="171.9" class="an" ><tspan class="it">P</tspan><tspan class="it" font-size="13">m</tspan><tspan dx="2.5"> (mmHg) = 111.2</tspan></text>
<text x="789.5" y="192.4" class="an" ><tspan class="it">PP</tspan><tspan dx="2.5"> (mmHg) = 38.3</tspan></text>
<text x="766" y="279.1" class="an" >HR (beats/min) = 398.0</text>
<text x="766" y="299.6" class="an" >CL<tspan dx="2"> (ms) = 150.7</tspan></text>
<text x="766" y="320.2" class="an" >LVET<tspan dx="2"> (ms) = 53.2</tspan></text></g>
<g id="cC"><line x1="1071" y1="62.6" x2="1174" y2="62.6" stroke="#000" stroke-width="1.6" stroke-dasharray="1.6 1.6"/>
<line x1="1071" y1="100.5" x2="1116" y2="100.5" stroke="#000" stroke-width="1.6" stroke-dasharray="5 3"/>
<line x1="1071" y1="240.6" x2="1471.5" y2="240.6" stroke="#00ff00" stroke-width="2.0" />
<line x1="1114.2" y1="240.6" x2="1247.2" y2="240.6" stroke="#000" stroke-width="2.0" />
<path d="M1070.8,226.8C1071.1,225.4 1071.8,221.1 1072.5,218.4C1073.2,215.7 1074.4,212.7 1075.3,210.6C1076.2,208.5 1077.2,206.3 1078.1,206.1C1079,205.9 1080,207.8 1080.9,209.5C1081.8,211.2 1082.7,214.1 1083.7,216.2C1084.7,218.2 1086,220.7 1087,221.8C1088,222.9 1088.8,223.3 1089.8,222.9C1090.8,222.5 1092.2,220.3 1093.2,219.5C1094.2,218.7 1095,217.4 1096,217.8C1097,218.2 1098.4,218.1 1099.3,221.8C1100.2,225.5 1100.8,234 1101.6,240C1102.3,246 1103.1,250.3 1103.8,258C1104.5,265.7 1105.2,276.7 1106,286C1106.8,295.3 1107.5,305.9 1108.3,313.9C1109,321.9 1109.6,328.3 1110.5,334.1C1111.4,339.9 1112.8,348.4 1113.9,348.6C1115,348.8 1116.3,341 1117.2,335.2C1118.1,329.4 1118.8,322.1 1119.5,313.9C1120.2,305.7 1120.7,295.3 1121.2,286C1121.8,276.7 1122.4,265.8 1122.8,258C1123.2,250.2 1123.2,247.3 1123.6,239C1124,230.7 1124.5,219 1125.1,208.3C1125.7,197.6 1126.5,184.5 1127.3,174.8C1128.1,165.1 1129.2,155.8 1130.1,150.1C1131,144.4 1132,140.2 1132.9,140.6C1133.8,141 1134.9,147.6 1135.7,152.4C1136.5,157.2 1137.3,161.8 1138,169.2C1138.7,176.6 1138.9,186.8 1139.6,197.1C1140.2,207.3 1141.1,221.1 1141.9,230.7C1142.8,240.3 1143.9,248.2 1144.7,254.6C1145.5,261 1146.2,266 1146.9,269.2C1147.6,272.4 1148.3,273.6 1149.1,273.6C1149.9,273.6 1151,271.8 1151.9,269.2C1152.8,266.6 1153.9,261.7 1154.7,258C1155.5,254.3 1156.1,250.5 1157,246.8C1157.9,243.1 1159.1,238 1160.3,235.6C1161.5,233.2 1162.6,232.6 1164,232.6C1165.4,232.6 1167,234.4 1168.7,235.8C1170.4,237.2 1172.4,239.9 1174.3,240.8C1176.2,241.7 1177.9,241.3 1179.9,241.3C1182,241.3 1184.5,241.7 1186.6,240.8C1188.6,239.9 1190.3,237.9 1192.2,235.8C1194.1,233.8 1196.2,230.3 1197.8,228.5C1199.4,226.7 1200.5,225.3 1201.7,225.1C1202.9,224.8 1204.1,225.9 1205,227C1205.9,228.1 1206,229.5 1207,231.7C1208,233.9 1209.8,237.9 1211.2,240.1C1212.6,242.3 1214.1,244.5 1215.4,245C1216.7,245.5 1218,245 1219.2,243.2C1220.4,241.4 1221.4,236.4 1222.8,234.2C1224.2,231.9 1226.3,229.9 1227.6,229.7C1228.9,229.5 1229.7,231.4 1230.6,233C1231.5,234.6 1232.4,236.8 1233,239C1233.6,241.2 1233.6,243.7 1234.2,246.2C1234.8,248.7 1235.9,251.2 1236.6,254C1237.2,256.8 1237.5,260.3 1238.1,263C1238.7,265.7 1239.2,268 1240.2,270.2C1241.2,272.4 1243.2,275.8 1244.4,276.2C1245.6,276.6 1246.3,275.3 1247.4,272.6C1248.5,269.9 1250,263.8 1251,260C1252,256.2 1252.6,253.1 1253.4,249.8C1254.2,246.5 1255.1,243.4 1255.8,240.2C1256.5,237 1256.8,233.2 1257.6,230.6C1258.4,228 1259.6,226 1260.6,224.6C1261.6,223.2 1262.6,222.3 1263.6,222.2C1264.6,222.1 1265.7,223.1 1266.6,224C1267.5,224.9 1267.7,226 1268.8,227.5C1269.9,229 1271.6,231.9 1273,233.1C1274.4,234.3 1275.3,234.8 1277.2,234.5C1279.1,234.2 1282.3,231.5 1284.2,231C1286.1,230.5 1286.8,230.2 1288.4,231.7C1290,233.2 1292.4,237.5 1294,240.1C1295.6,242.7 1296.8,245.1 1298.2,247.1C1299.6,249.1 1300.8,252.1 1302.5,252C1304.2,251.9 1306.5,249.1 1308.1,246.4C1309.7,243.7 1310.7,238.9 1312.3,235.9C1313.9,232.9 1316,228.9 1317.9,228.2C1319.8,227.5 1321.9,229.8 1323.5,231.7C1325.1,233.6 1326.1,237.1 1327.7,239.4C1329.3,241.7 1331.2,245.2 1333.3,245.7C1335.4,246.2 1338.3,243.4 1340.4,242.2C1342.5,241 1343.7,239.6 1346,238.7C1348.3,237.8 1351.8,237.8 1354.4,237C1357,236.2 1359.5,234.3 1361.4,233.8C1363.3,233.3 1364,233.1 1365.6,234.2C1367.2,235.2 1369.3,237.5 1371.2,240.1C1373.1,242.7 1375.3,247.9 1376.8,249.9C1378.3,251.9 1379,252.5 1380.4,252C1381.8,251.5 1383.5,249.7 1385.3,247.1C1387,244.5 1389.2,238.9 1390.9,236.6C1392.7,234.3 1393.9,232.8 1395.8,233.1C1397.7,233.4 1399.6,236.9 1402.1,238.7C1404.5,240.5 1408.2,243.5 1410.5,244C1412.8,244.5 1414,243 1416.1,241.5C1418.2,240 1420.8,235.5 1423.2,234.8C1425.6,234.1 1427.6,236.1 1430.2,237.3C1432.8,238.5 1435.7,242.2 1438.6,242.2C1441.5,242.1 1445.4,237.2 1447.7,237C1450,236.8 1451,238.4 1452.6,240.8C1454.2,243.2 1455.8,248.2 1457.5,251.3C1459.2,254.5 1461.1,259.5 1462.5,259.7C1463.9,259.9 1464.8,256 1466,252.7C1467.2,249.4 1468.6,242.9 1469.5,240.1C1470.4,237.2 1470.9,236.3 1471.2,235.6" fill="none" stroke="#ff00ff" stroke-width="2.0" stroke-linejoin="round" stroke-linecap="round" />
<path d="M1114.2,240.6 L1142.6,72.8 L1247.2,240.6" fill="none" stroke="#00ff00" stroke-width="1.8" stroke-linejoin="round" stroke-linecap="round" />
<line x1="1114.1" y1="99.3" x2="1114.1" y2="240.6" stroke="#0000ff" stroke-width="1.8" />
<line x1="1142.6" y1="73" x2="1142.6" y2="240.6" stroke="#0000ff" stroke-width="1.8" />
<line x1="1247.2" y1="77.6" x2="1247.2" y2="240.6" stroke="#0000ff" stroke-width="1.8" />
<path d="M1071.2,92.6 L1076.4,94 L1089.1,96.3 L1098.5,98.2 L1102.7,97.2 L1109.1,97.4 L1114.3,99.2 L1117.5,97.4 L1120.6,91.6 L1123.8,84.7 L1128,78.9 L1133.3,75.8 L1142.7,72.6 L1150.1,68.9 L1160.6,64.7 L1169.1,62.6 L1176.4,61.4 L1190.1,61.4 L1197.5,62.4 L1204.8,64.7 L1212.2,66.3 L1218.5,70.8 L1222.7,70.5 L1230.1,73.4 L1236.4,75.3 L1243.8,77.6 L1249.1,75.8 L1255.4,73.7 L1268,70.5 L1273,69.2 L1281.4,66.8 L1299.3,66.8 L1302.5,67.9 L1313,67.4 L1318.3,68.4 L1326.7,70 L1332,72.3 L1341.4,74 L1346.7,75.3 L1355.1,79.5 L1367.7,82.6 L1374.1,86.3 L1380.4,88.1 L1397.2,91.6 L1404.6,91.9 L1414.1,95.1 L1420.4,93.7 L1429.8,95.8 L1439.3,96.3 L1443.5,95.5 L1450.9,96.5 L1457.2,95.5 L1467.7,95.5 L1471.4,96.3" fill="none" stroke="#000" stroke-width="1.9" stroke-linejoin="round" stroke-linecap="round" />
<text x="1048.3" y="66.7" class="an" ><tspan class="it">P</tspan><tspan class="it" font-size="13">s</tspan></text>
<text x="1073" y="86.1" class="an" ><tspan class="it">PP</tspan></text>
<text x="1048.3" y="100.6" class="an" ><tspan class="it">P</tspan><tspan class="it" font-size="13">d</tspan></text>
<text x="1180.7" y="126" class="an" style="font-style:italic;font-size:24px;fill:#009a48">Q</text><text x="1199" y="117.5" class="an" style="font-size:14px;fill:#009a48">tri</text>
<text x="1309.5" y="140.2" class="an" ><tspan class="it">P</tspan><tspan class="it" font-size="13">s</tspan><tspan dx="2.5"> (mmHg) = 138.5</tspan></text>
<text x="1309.5" y="160.2" class="an" ><tspan class="it">P</tspan><tspan class="it" font-size="13">d</tspan><tspan dx="2.5"> (mmHg) =  109.0</tspan></text>
<text x="1309.5" y="180.2" class="an" ><tspan class="it">P</tspan><tspan class="it" font-size="13">m</tspan><tspan dx="2.5"> (mmHg) = 124.3</tspan></text>
<text x="1309.5" y="200.2" class="an" ><tspan class="it">PP</tspan><tspan dx="2.5"> (mmHg) = 29.5</tspan></text>
<text x="1287.5" y="289.9" class="an" >HR (beats/min) = 407.0</text>
<text x="1287.5" y="310.3" class="an" >CL<tspan dx="2"> (ms) = 147.4</tspan></text>
<text x="1287.5" y="330.7" class="an" >LVET<tspan dx="2"> (ms) = 48.0</tspan></text></g>
<g id="cD"><line x1="1574" y1="76.8" x2="1678" y2="76.8" stroke="#000" stroke-width="1.6" stroke-dasharray="1.6 1.6"/>
<line x1="1574" y1="126.8" x2="1617" y2="126.8" stroke="#000" stroke-width="1.6" stroke-dasharray="5 3"/>
<line x1="1574" y1="240.3" x2="1970.7" y2="240.3" stroke="#00ff00" stroke-width="2.0" />
<line x1="1617.9" y1="240.3" x2="1763.3" y2="240.3" stroke="#000" stroke-width="2.0" />
<path d="M1574.2,235.6C1575,235.7 1576.8,235.8 1578.7,236.2C1580.6,236.6 1583.7,237.8 1585.4,237.8C1587.1,237.8 1587.7,237.1 1588.8,236.2C1589.9,235.3 1591.2,234 1592.1,232.3C1593,230.6 1593.5,228.8 1594.4,226.1C1595.3,223.4 1596.5,218.8 1597.7,216C1598.9,213.2 1600.6,209.9 1601.7,209.3C1602.8,208.8 1603.7,210.6 1604.5,212.7C1605.3,214.8 1606,217.5 1606.7,221.6C1607.4,225.7 1608.4,231.3 1608.9,237C1609.5,242.7 1609.4,249.7 1610,256C1610.6,262.3 1611.5,268.3 1612.3,274.8C1613,281.3 1613.7,288.8 1614.5,294.9C1615.3,301 1616.3,307.7 1617.3,311.7C1618.3,315.7 1619.6,319.6 1620.7,319C1621.8,318.4 1623,312.9 1624,308.3C1625,303.7 1626,298.9 1626.8,291.5C1627.6,284.1 1628.3,272.7 1629.1,263.6C1629.8,254.5 1630.6,245.7 1631.3,237C1632,228.3 1632.8,218.5 1633.5,211.5C1634.2,204.5 1634.9,198.6 1635.8,194.8C1636.7,191 1638,188.6 1639.1,188.6C1640.2,188.6 1641.6,191.9 1642.5,194.8C1643.4,197.7 1644,202.3 1644.7,206C1645.4,209.7 1646.2,213.4 1646.9,217.1C1647.7,220.8 1648.4,224.6 1649.2,228.3C1650,232 1650.6,236.9 1651.5,239.5C1652.4,242.1 1653.5,243.6 1654.8,244C1656.1,244.4 1658,242.9 1659.3,241.8C1660.6,240.7 1661.3,238.5 1662.6,237.3C1663.9,236.1 1665.4,235 1667.1,234.5C1668.8,234 1670.8,234.1 1672.7,234.2C1674.6,234.3 1676.6,234.9 1678.3,235.3C1680,235.7 1681.3,235.8 1682.8,236.7C1684.3,237.6 1685.8,239.4 1687.3,240.6C1688.8,241.8 1690.2,243.2 1691.7,244C1693.2,244.8 1694.7,245.4 1696.2,245.1C1697.7,244.8 1699.3,243.5 1700.7,242.3C1702.1,241.2 1702.8,239.7 1704.5,238.2C1706.2,236.7 1708.5,233.5 1710.6,233.5C1712.6,233.5 1715,235.7 1716.8,238.2C1718.6,240.7 1719.6,245.1 1721.3,248.3C1723,251.5 1725,257.4 1726.9,257.2C1728.8,257 1731,251.6 1732.5,247.1C1734,242.6 1734.7,236.4 1735.8,230.4C1736.9,224.4 1738.2,216.9 1739.2,211.3C1740.2,205.7 1741,199.9 1742,196.8C1743,193.7 1744.2,192.1 1745.3,192.5C1746.4,192.9 1747.7,195.5 1748.7,199C1749.7,202.5 1750.6,206.5 1751.5,213.6C1752.4,220.7 1753.4,232.2 1754.3,241.5C1755.2,250.8 1756.2,261.1 1757.1,269.5C1758,277.9 1758.9,286.2 1759.9,291.9C1760.9,297.6 1762,303.7 1763.2,303.7C1764.4,303.7 1765.9,297.6 1767.1,291.9C1768.3,286.2 1769.5,277 1770.5,269.5C1771.5,262 1772.4,254.2 1773.3,247.1C1774.2,240 1775.1,232.2 1776.1,227C1777.1,221.8 1778.5,218.1 1779.5,215.8C1780.5,213.5 1781.2,212.9 1782.3,213.3C1783.4,213.7 1785,216.1 1786.2,218C1787.4,219.9 1788.4,222.7 1789.5,224.8C1790.6,226.9 1791.5,228.9 1792.9,230.4C1794.3,231.9 1796.2,233.2 1798,234C1799.8,234.8 1801.5,234.4 1803.6,235.5C1805.7,236.6 1808.8,239.5 1810.7,240.7C1812.6,241.9 1813.3,243 1815,242.9C1816.7,242.8 1818.8,240.8 1820.7,240C1822.6,239.2 1823.8,238.2 1826.4,237.9C1829,237.6 1833.8,237.8 1836.4,237.9C1839,238 1839.9,238.4 1842.1,238.6C1844.2,238.8 1846.5,238.6 1849.3,239.3C1852,240 1855.5,242.9 1858.6,242.9C1861.7,242.9 1864.9,240 1867.9,239.3C1870.9,238.6 1873.1,238.8 1876.4,238.6C1879.7,238.4 1884.1,238 1887.9,237.9C1891.7,237.8 1896.5,237.4 1899.3,237.9C1902.1,238.4 1902.2,239.5 1905,240.7C1907.8,241.9 1913.3,244.9 1916.4,245C1919.5,245.1 1921.7,242.8 1923.6,241.4C1925.5,240 1926.4,237.8 1927.9,236.4C1929.5,235 1931,232.9 1932.9,232.9C1934.8,232.9 1937.5,234.7 1939.3,236.4C1941.1,238.1 1941.9,241.2 1943.6,242.9C1945.3,244.6 1947.4,246.5 1949.3,246.4C1951.2,246.3 1953.1,243.7 1955,242.1C1956.9,240.5 1958.8,238.2 1960.7,237.1C1962.6,236 1964.7,235.7 1966.4,235.4C1968.1,235.1 1970,235.4 1970.7,235.4" fill="none" stroke="#ff00ff" stroke-width="2.0" stroke-linejoin="round" stroke-linecap="round" />
<path d="M1617.9,240.3 L1651.1,92.8 L1763.3,240.3" fill="none" stroke="#00ff00" stroke-width="1.8" stroke-linejoin="round" stroke-linecap="round" />
<line x1="1618.1" y1="123.2" x2="1618.1" y2="240.3" stroke="#0000ff" stroke-width="1.8" />
<line x1="1651.1" y1="93" x2="1651.1" y2="240.3" stroke="#0000ff" stroke-width="1.8" />
<line x1="1763.3" y1="94.2" x2="1763.3" y2="240.3" stroke="#0000ff" stroke-width="1.8" />
<path d="M1574.1,120.8 L1584.6,120.8 L1597.3,123.2 L1618.3,123.2 L1622.5,121.6 L1628.8,113.7 L1635.2,104.2 L1640.4,100 L1645.7,96.8 L1652,91.1 L1661.5,85.3 L1672,79.5 L1680.4,76.8 L1690.9,75.8 L1703.6,76 L1708.8,77.2 L1719.4,78.4 L1729.9,81.1 L1736.2,81.6 L1751,86.3 L1756.2,89.5 L1762.5,94.2 L1769.9,91.1 L1777,89.5 L1785.4,87.2 L1798.1,84.4 L1821.2,84.4 L1829.6,85.5 L1845.4,89.5 L1861.2,94.7 L1877,98.7 L1887.5,102.6 L1908.6,108.2 L1916,111.1 L1926.5,112.1 L1934.9,114.2 L1950.7,117.7 L1959.1,119.2 L1969.6,119.2 L1970.7,120" fill="none" stroke="#000" stroke-width="2.2" stroke-linejoin="round" stroke-linecap="round" />
<text x="1553" y="83.3" class="an" ><tspan class="it">P</tspan><tspan class="it" font-size="13">s</tspan></text>
<text x="1586.2" y="110.5" class="an" ><tspan class="it">PP</tspan></text>
<text x="1552" y="132.8" class="an" ><tspan class="it">P</tspan><tspan class="it" font-size="13">d</tspan></text>
<text x="1693.5" y="140.5" class="an" style="font-style:italic;font-size:24px;fill:#009a48">Q</text><text x="1711.5" y="134.2" class="an" style="font-size:14px;fill:#009a48">tri</text>
<text x="1824.5" y="150.5" class="an" ><tspan class="it">P</tspan><tspan class="it" font-size="13">s</tspan><tspan dx="2.5"> (mmHg) = 126.4</tspan></text>
<text x="1824.5" y="170.7" class="an" ><tspan class="it">P</tspan><tspan class="it" font-size="13">d</tspan><tspan dx="2.5"> (mmHg) =  89.6</tspan></text>
<text x="1824.5" y="190.9" class="an" ><tspan class="it">P</tspan><tspan class="it" font-size="13">m</tspan><tspan dx="2.5"> (mmHg) = 110.1</tspan></text>
<text x="1824.5" y="211" class="an" ><tspan class="it">PP</tspan><tspan dx="2.5"> (mmHg) = 36.8</tspan></text>
<text x="1800" y="290.1" class="an" >HR (beats/min) = 414.9</text>
<text x="1800" y="310.6" class="an" >CL<tspan dx="2"> (ms) = 144.6</tspan></text>
<text x="1800" y="330.7" class="an" >LVET<tspan dx="2"> (ms) = 52.7</tspan></text></g>
<g id="cE"><path d="M61.6,508.8C62,507.4 62.8,502.9 63.8,500.2C64.8,497.4 66.1,494.1 67.4,492.3C68.7,490.5 70.4,489.6 71.7,489.4C73,489.2 73.8,489.3 75.3,490.9C76.8,492.5 79.1,495.8 81,498.8C82.9,501.8 84.9,504.5 86.8,508.8C88.7,513.1 90.3,518.9 92.5,524.7C94.7,530.5 97.3,537.6 99.7,543.4C102.1,549.1 104.7,554.7 106.9,559.2C109.1,563.8 110.8,567.5 112.7,570.7C114.6,573.9 116.2,576.3 118.4,578.6C120.6,580.9 122.9,582.6 125.6,584.4C128.2,586.2 131.2,587.6 134.3,589.4C137.4,591.2 141.4,593.5 144.3,595.2C147.2,596.9 149.1,598.4 151.5,599.5C153.9,600.6 156,601.3 158.7,601.7C161.3,602.1 165,602.3 167.4,601.7C169.8,601.1 170.9,600.2 173.1,598.1C175.2,596 177.9,592.4 180.3,589.4C182.7,586.4 185.1,582.7 187.5,580.1C189.9,577.5 192.3,575.2 194.7,573.6C197.1,572 199.8,570.9 201.9,570.7C204.1,570.5 205.2,570.3 207.6,572.2C210,574.1 213.4,578.4 216.3,582.2C219.2,586 222.3,590.6 224.9,595.2C227.5,599.8 229.7,604.8 232.1,609.6C234.5,614.4 237.1,619.7 239.3,624C241.5,628.3 243.4,632.1 245.1,635.5C246.8,638.9 247.9,641.4 249.3,644.6C250.7,647.8 251.9,651.8 253.6,654.7C255.3,657.6 257.5,659.5 259.4,661.9C261.3,664.3 262.7,666.7 265.1,669.1C267.5,671.5 270.9,674.3 273.8,676.3C276.7,678.3 279.3,679.8 282.4,681.3C285.5,682.8 289.2,684.8 292.5,685.6C295.8,686.5 298.6,686.3 302,686.4C305.4,686.5 308.9,685.4 312.6,686C316.3,686.6 320.5,687.9 324.1,689.9C327.7,691.9 330.6,694.5 334.2,697.8C337.8,701 341.4,705.8 345.7,709.4C350,713 355.8,715.8 360.1,719.4C364.4,723 368,727.1 371.6,730.9C375.2,734.7 378.1,739 381.7,742.4C385.3,745.8 389.6,748.9 393.2,751.1C396.8,753.3 400.7,754.7 403.3,755.4C405.9,756.1 407.1,756.1 409,755.4C410.9,754.7 412.9,754.2 414.8,751.1C416.7,748 418.7,742.7 420.5,736.7C422.3,730.7 424.2,723.5 425.6,715.1C427.1,706.7 427.9,697.1 429.2,686.3C430.5,675.5 432.1,661.2 433.5,650.4C434.9,639.6 436.5,630.8 437.8,621.6C439.1,612.4 440.5,603.1 441.4,595C442.3,586.9 442.5,579.8 443.3,572.9C444.1,566 445.4,559.5 446.2,553.7C447,548 447.4,542.9 448.1,538.4C448.8,533.9 449.6,530.3 450.5,526.9C451.4,523.5 452.9,519.2 453.4,517.7" fill="none" stroke="#ff00ff" stroke-width="2.0" stroke-linejoin="round" stroke-linecap="round" />
<path d="M69.3,475H73.1V483.7H75.3L71.2,488.6L67.1,483.7H69.3Z" fill="#000"/>
<path d="M199.7,544.1H204.1V564H206.4L201.9,569.5L197.4,564H199.7Z" fill="#000"/>
<text x="255.4" y="534.4" class="an" style="font-size:19.6px"><tspan class="it">&#964;</tspan><tspan class="it" font-size="14" dy="2.6">w</tspan><tspan dy="-2.6"> (ms)</tspan></text>
<text x="255.4" y="556.9" class="an" style="font-size:19.6px"><tspan class="it">&#964;</tspan><tspan class="it" font-size="14" dy="2.6">w</tspan><tspan dy="-2.6">/</tspan><tspan dx="1.5"> CL</tspan></text>
<text x="255.4" y="583.1" class="an" style="font-size:19.6px"><tspan class="it">&#964;</tspan><tspan class="it" font-size="14" dy="2.6">w</tspan><tspan dy="-2.6"> / LVET</tspan></text>
<text x="347.9" y="534.4" class="an" style="font-size:19.6px">=</text>
<text x="366.8" y="534.4" class="an" style="font-size:19.6px" letter-spacing="1.5">28.7</text>
<text x="347.9" y="556.9" class="an" style="font-size:19.6px">=</text>
<text x="366.8" y="556.9" class="an" style="font-size:19.6px" letter-spacing="1.5">0.167</text>
<text x="347.9" y="583.1" class="an" style="font-size:19.6px">=</text>
<text x="366.8" y="583.1" class="an" style="font-size:19.6px" letter-spacing="1.5">0.478</text></g>
<g id="cF"><path d="M563.5,506.4C564,506.1 565,504.6 566.2,504.6C567.4,504.6 569,504.6 570.6,506.4C572.2,508.2 574,511.1 575.8,515.2C577.5,519.3 579.3,525.7 581.1,531C582.9,536.3 584.6,541.2 586.4,546.8C588.2,552.4 590,559.1 591.7,564.4C593.5,569.7 594.6,573.2 596.9,578.5C599.2,583.8 603.1,590.8 605.7,596.1C608.4,601.4 610.1,604.8 612.8,610.1C615.4,615.4 618.7,621.5 621.6,627.7C624.5,633.9 627.4,641.5 630.3,647.1C633.2,652.7 636.5,657.3 639.1,661.1C641.8,664.9 644,668 646.2,669.9C648.4,671.8 650.2,672.7 652.3,672.6C654.3,672.5 656.3,671.6 658.5,669.1C660.7,666.6 663.1,662.7 665.5,657.6C667.9,652.5 670.2,645.9 672.6,638.3C675,630.7 677.3,620.1 679.6,611.9C681.9,603.7 684.2,594.9 686.6,589C689,583.1 691.1,579.8 693.7,576.7C696.3,573.6 699.5,570.9 702.1,570.6C704.7,570.3 707.1,572.2 709.5,575C711.9,577.8 714.1,582.6 716.5,587.3C718.9,592 721.2,597.5 723.6,603.1C726,608.7 728.3,615.1 730.6,620.7C732.9,626.3 735,631.5 737.6,636.5C740.2,641.5 743.5,645.9 746.4,650.6C749.3,655.3 752.9,661.1 755.2,664.7C757.5,668.3 757.7,668.8 760,672.3C762.3,675.8 765.6,681.3 769,685.8C772.4,690.3 776,695.1 780.1,699.2C784.2,703.3 788.8,707.2 793.6,710.4C798.5,713.6 804,715.8 809.2,718.2C814.4,720.6 820,722.9 824.9,724.9C829.8,726.9 833.8,729.4 838.3,730.1C842.8,730.9 846.9,729.5 851.8,729.4C856.6,729.3 862.9,728.8 867.4,729.4C871.9,730 874.9,731.1 878.6,732.8C882.3,734.5 886.4,736.9 889.8,739.5C893.2,742.1 896.2,746.4 898.8,748.4C901.4,750.4 903.3,752.5 905.5,751.8C907.7,751.1 910,749.8 912.2,744C914.4,738.2 916.7,727.9 918.9,717.1C921.1,706.3 923.4,694.8 925.6,679.1C927.8,663.4 930.2,639.9 932.3,623.1C934.3,606.3 936.2,591.3 937.9,578.3C939.6,565.2 940.9,554.1 942.4,544.8C943.9,535.5 945.6,527.6 946.9,522.4C948.2,517.2 949.7,514.9 950.2,513.4" fill="none" stroke="#ff00ff" stroke-width="2.0" stroke-linejoin="round" stroke-linecap="round" />
<path d="M564.3,490.6H568.1V498.5H570.5L566.2,504.6L561.9,498.5H564.3Z" fill="#000"/>
<path d="M699.8,544.2H704.4V564.2H707.1L702.1,569.9L697.1,564.2H699.8Z" fill="#000"/>
<text x="761.3" y="505.4" class="an" style="font-size:19.6px"><tspan class="it">&#964;</tspan><tspan class="it" font-size="14" dy="2.6">w</tspan><tspan dy="-2.6"> (ms)</tspan></text>
<text x="761.3" y="529.2" class="an" style="font-size:19.6px"><tspan class="it">&#964;</tspan><tspan class="it" font-size="14" dy="2.6">w</tspan><tspan dy="-2.6">/</tspan><tspan dx="1.5"> CL</tspan></text>
<text x="761.3" y="554.2" class="an" style="font-size:19.6px"><tspan class="it">&#964;</tspan><tspan class="it" font-size="14" dy="2.6">w</tspan><tspan dy="-2.6"> / LVET</tspan></text>
<text x="854.2" y="505.4" class="an" style="font-size:19.6px">=</text>
<text x="873.2" y="505.4" class="an" style="font-size:19.6px" letter-spacing="1.5">26.3</text>
<text x="854.2" y="529.2" class="an" style="font-size:19.6px">=</text>
<text x="873.2" y="529.2" class="an" style="font-size:19.6px" letter-spacing="1.5">0.175</text>
<text x="854.2" y="554.2" class="an" style="font-size:19.6px">=</text>
<text x="873.2" y="554.2" class="an" style="font-size:19.6px" letter-spacing="1.5">0.494</text></g>
<g id="cG"><path d="M1071.5,502.9C1072.1,502.4 1073.5,500.1 1075,500.2C1076.5,500.3 1078.5,501.5 1080.3,503.7C1082.1,505.9 1083.8,509.4 1085.6,513.4C1087.4,517.4 1089.2,522.8 1090.9,527.5C1092.7,532.2 1094,536.3 1096.1,541.6C1098.1,546.9 1100.8,553.2 1103.2,559.1C1105.6,565 1107.9,570.8 1110.2,576.7C1112.5,582.6 1114.9,588.1 1117.2,594.3C1119.5,600.5 1122,607 1124.3,613.7C1126.6,620.5 1129,628.1 1131.3,634.8C1133.6,641.5 1135.9,648.5 1138.3,654.1C1140.7,659.7 1142.8,664.7 1145.4,668.2C1148.1,671.7 1151.3,675.2 1154.2,675.2C1157.1,675.2 1160.4,672 1163,668.2C1165.6,664.4 1167.7,658.6 1170,652.4C1172.3,646.2 1174.7,638.8 1177,631.2C1179.3,623.6 1181.8,614.5 1184.1,606.6C1186.4,598.7 1188.8,590.5 1191.1,583.8C1193.4,577.1 1195.5,570.3 1198.1,566.2C1200.7,562.1 1204,559.4 1206.9,559.1C1209.8,558.8 1213.1,561.2 1215.7,564.4C1218.3,567.6 1220.5,573.5 1222.8,578.5C1225.1,583.5 1227.5,588.7 1229.8,594.3C1232.1,599.9 1234.4,606.3 1236.8,611.9C1239.2,617.5 1241.2,622.1 1243.9,627.7C1246.6,633.3 1249.8,639.4 1252.7,645.3C1255.6,651.2 1259.5,658.8 1261.5,662.9C1263.5,667 1262.5,665.5 1265,670.1C1267.5,674.7 1272.5,683.9 1276.2,690.2C1279.9,696.5 1283.7,702.5 1287.4,708.1C1291.1,713.7 1294.9,719.1 1298.6,723.8C1302.3,728.5 1305.7,732.7 1309.8,736.1C1313.9,739.5 1316.5,742.5 1323.2,744C1329.9,745.5 1342.5,744.8 1350,745.1C1357.5,745.4 1363.2,746.1 1368,745.7C1372.8,745.3 1375.4,744.2 1379.1,742.8C1382.8,741.4 1386.9,738.7 1390.3,737.2C1393.7,735.7 1396.7,734.5 1399.3,733.9C1401.9,733.3 1403.4,732.6 1406,733.9C1408.6,735.2 1412.4,738.9 1415,741.7C1417.6,744.5 1419.5,748.1 1421.7,750.7C1423.9,753.3 1426.2,756.9 1428.4,757.4C1430.6,757.9 1432.9,758.9 1435.1,754C1437.3,749.1 1439.6,738.9 1441.8,728.3C1444,717.7 1446.3,705.9 1448.5,690.2C1450.7,674.5 1453.3,651.1 1455.2,634.3C1457.1,617.5 1458.2,603.3 1459.7,589.5C1461.2,575.7 1462.7,561.9 1464.2,551.5C1465.7,541.1 1467,534 1468.7,526.9C1470.4,519.8 1473.4,512 1474.3,509" fill="none" stroke="#ff00ff" stroke-width="2.0" stroke-linejoin="round" stroke-linecap="round" />
<path d="M1072.8,485.3H1076.6V491.6H1079L1074.7,498.5L1070.4,491.6H1072.8Z" fill="#000"/>
<path d="M1204.6,535.4H1209.2V550.3H1211.9L1206.9,557.6L1201.9,550.3H1204.6Z" fill="#000"/>
<text x="1264" y="505.4" class="an" style="font-size:19.6px"><tspan class="it">&#964;</tspan><tspan class="it" font-size="14" dy="2.6">w</tspan><tspan dy="-2.6"> (ms)</tspan></text>
<text x="1264" y="529.2" class="an" style="font-size:19.6px"><tspan class="it">&#964;</tspan><tspan class="it" font-size="14" dy="2.6">w</tspan><tspan dy="-2.6">/</tspan><tspan dx="1.5"> CL</tspan></text>
<text x="1264" y="554.2" class="an" style="font-size:19.6px"><tspan class="it">&#964;</tspan><tspan class="it" font-size="14" dy="2.6">w</tspan><tspan dy="-2.6"> / LVET</tspan></text>
<text x="1356.5" y="505.4" class="an" style="font-size:19.6px">=</text>
<text x="1375.9" y="505.4" class="an" style="font-size:19.6px" letter-spacing="1.5">24.3</text>
<text x="1356.5" y="529.2" class="an" style="font-size:19.6px">=</text>
<text x="1375.9" y="529.2" class="an" style="font-size:19.6px" letter-spacing="1.5">0.165</text>
<text x="1356.5" y="554.2" class="an" style="font-size:19.6px">=</text>
<text x="1375.9" y="554.2" class="an" style="font-size:19.6px" letter-spacing="1.5">0.506</text></g>
<g id="cH"><path d="M1574.6,496.4C1575,494.9 1576,489.8 1577.3,487.6C1578.6,485.4 1580.8,483.4 1582.6,483.2C1584.3,483 1586,484.5 1587.8,486.7C1589.5,488.9 1591,491.8 1593.1,496.4C1595.1,500.9 1597.8,507.6 1600.1,514C1602.4,520.5 1604.8,528.4 1607.2,535.1C1609.6,541.8 1611.9,547.7 1614.2,554.4C1616.5,561.1 1618.9,569.3 1621.2,575.5C1623.5,581.7 1625.7,585.8 1628.3,591.4C1630.9,597 1634.5,604.6 1637.1,608.9C1639.7,613.1 1640.9,614.4 1644.1,616.9C1647.3,619.4 1652.3,621.6 1656.4,623.9C1660.5,626.2 1664.7,628.7 1668.7,630.9C1672.7,633.1 1677,637 1680.2,637.1C1683.4,637.2 1685.6,634.7 1688.1,631.8C1690.6,628.9 1692.8,624.5 1695.1,619.5C1697.4,614.5 1699.8,608.6 1702.1,601.9C1704.4,595.1 1707.1,585 1709.2,579C1711.3,573 1712.3,569.6 1714.5,565.8C1716.7,562 1719.8,556.6 1722.4,556.2C1725,555.8 1727.8,559.7 1730.3,563.2C1732.8,566.7 1734.9,572.3 1737.3,577.3C1739.7,582.3 1742.1,587.8 1744.4,593.1C1746.8,598.4 1749.1,603.6 1751.4,608.9C1753.7,614.2 1756.1,619.5 1758.4,624.8C1760.8,630.1 1763.6,636.8 1765.5,640.6C1767.4,644.4 1767.8,643.9 1770,647.7C1772.2,651.5 1775.3,657.8 1779,663.4C1782.7,669 1787.6,675.7 1792.4,681.3C1797.2,686.9 1802,692.5 1808,697C1814,701.5 1821.9,704.2 1828.2,708.1C1834.5,712 1840.1,716.6 1846.1,720.5C1852.1,724.4 1858,728.2 1864,731.6C1870,735 1875.9,738 1881.9,740.6C1887.9,743.2 1894.6,745.4 1899.8,747.3C1905,749.2 1909.8,750.9 1913.2,751.8C1916.6,752.7 1917.4,753.8 1920,752.9C1922.6,752 1926.3,750.3 1928.9,746.2C1931.5,742.1 1933.4,736.5 1935.6,728.3C1937.8,720.1 1940.1,710.8 1942.3,697C1944.5,683.2 1946.8,664.2 1949,645.5C1951.2,626.8 1953.5,601.8 1955.8,585C1958,568.2 1960.3,558.2 1962.5,544.8C1964.7,531.4 1968.1,511.2 1969.2,504.5" fill="none" stroke="#ff00ff" stroke-width="2.0" stroke-linejoin="round" stroke-linecap="round" />
<path d="M1580.7,470H1584.5V477H1586.9L1582.6,482.5L1578.3,477H1580.7Z" fill="#000"/>
<path d="M1720.1,530.7H1724.7V549.1H1727.4L1722.4,555.5L1717.4,549.1H1720.1Z" fill="#000"/>
<text x="1774" y="504.4" class="an" style="font-size:19.6px"><tspan class="it">&#964;</tspan><tspan class="it" font-size="14" dy="2.6">w</tspan><tspan dy="-2.6"> (ms)</tspan></text>
<text x="1774" y="527.4" class="an" style="font-size:19.6px"><tspan class="it">&#964;</tspan><tspan class="it" font-size="14" dy="2.6">w</tspan><tspan dy="-2.6">/</tspan><tspan dx="1.5"> CL</tspan></text>
<text x="1774" y="553.1" class="an" style="font-size:19.6px"><tspan class="it">&#964;</tspan><tspan class="it" font-size="14" dy="2.6">w</tspan><tspan dy="-2.6"> / LVET</tspan></text>
<text x="1866.5" y="504.4" class="an" style="font-size:19.6px">=</text>
<text x="1885.5" y="504.4" class="an" style="font-size:19.6px" letter-spacing="1.5">24.1</text>
<text x="1866.5" y="527.4" class="an" style="font-size:19.6px">=</text>
<text x="1885.5" y="527.4" class="an" style="font-size:19.6px" letter-spacing="1.5">0.155</text>
<text x="1866.5" y="553.1" class="an" style="font-size:19.6px">=</text>
<text x="1885.5" y="553.1" class="an" style="font-size:19.6px" letter-spacing="1.5">0.506</text></g>
<g id="cI"><line x1="61" y1="1152.8" x2="473" y2="1152.8" stroke="#000" stroke-width="3.2" />
<path d="M62.3,1126.6 L65.6,1122.3 L71,1134.2 L77.4,1133.1 L86.1,1134.2 L96.9,1145 L104.4,1146.1 L107.6,1150.4" fill="none" stroke="#a600ff" stroke-width="2.0" stroke-linejoin="round" stroke-linecap="round" />
<path d="M107.6,1150.4 L108.7,1153.6 L113,1160.1 L118.4,1152.5 L123.8,1143.9 L129.2,1151.5 L136.8,1157.9 L142.2,1143.9 L148.7,1122.3 L155.1,1105.1 L161.6,1087.8 L168.1,1070.5 L174.6,1059.7 L183.2,1055.4 L191.8,1046.8 L198.3,1036 L206.9,1029.5 L213.4,1018.7 L219.9,1016.6 L228.5,1012.2 L235,1013.3 L240.5,1022 L243.4,1028" fill="none" stroke="#ff00ff" stroke-width="2.0" stroke-linejoin="round" stroke-linecap="round" />
<path d="M243.4,1028 L248.2,1017.2 L253.6,1009 L260.4,1012.4 L265.1,1012.8 L269.9,1017.9 L274,1015.1 L278.7,1009 L282.8,1011.1 L287.6,1008.8 L292.3,1013.1 L298.4,1014.5 L307.9,1015.8 L313.4,1021.3 L318.8,1029.4 L328.3,1038.9 L341.9,1048.4 L351.4,1056.6 L359.6,1066.1 L369.1,1075.6 L380,1082.4 L385.4,1083.5 L392.2,1088.9 L397.6,1089.2 L405.8,1095.3 L412.6,1097.4 L419.4,1104.1 L427.5,1103.5 L434.3,1110.3 L441.1,1110.3 L449.3,1117.7 L454,1120.5 L456.7,1124.5" fill="none" stroke="#a600ff" stroke-width="2.0" stroke-linejoin="round" stroke-linecap="round" />
<path d="M107.6,1150.4 L112,1128.8 L115.2,1105 L118.4,1072.7 L121.7,1042.5 L126,1016.6 L129.2,992.8 L133.5,969.1 L137.9,943.2 L144.3,934.5 L150.8,922.7 L157.3,920.5 L165.9,914 L170.5,914.5 L176.7,916.2 L183.2,928.1 L191.8,935.6 L200.5,943.2 L209.1,951.8 L217.7,964.8 L226.4,973.4 L232.8,986.3 L239.3,1007.9 L243.2,1027.3" fill="none" stroke="#0000ff" stroke-width="2.0" stroke-linejoin="round" stroke-linecap="round" />
<path d="M169.3,914.5V988.5" stroke="#2d58d0" stroke-width="3.0" fill="none"/><path d="M160.8,988.5L177.8,988.5L169.3,1005.8Z" fill="#2d58d0"/>
<path d="M169.3,1151.5V1071.8" stroke="#2d58d0" stroke-width="3.0" fill="none"/><path d="M160.8,1071.8L177.8,1071.8L169.3,1055.3Z" fill="#2d58d0"/>
<path d="M253.6,1009.5V1035.3" stroke="#cc4fab" stroke-width="3.0" fill="none"/><path d="M245.3,1035.3L261.9,1035.3L253.6,1051.3Z" fill="#cc4fab"/>
<path d="M250.4,1151.5V1129" stroke="#cc4fab" stroke-width="3.0" fill="none"/><path d="M242.2,1129L258.6,1129L250.4,1112.8Z" fill="#cc4fab"/>
<text x="155.5" y="1034.8" style="font-family:'Liberation Serif',serif;font-size:18.5px;fill:#2d58d0">|<tspan font-style="italic">P</tspan><tspan font-style="italic" font-size="12.6" dy="2.5" dx="-2.6">f</tspan><tspan dy="-2.5" dx="0.3">|</tspan></text>
<text x="241" y="1086.6" style="font-family:'Liberation Serif',serif;font-size:18.5px;fill:#cc4fab">|<tspan font-style="italic">P</tspan><tspan font-style="italic" font-size="12.6" dy="2.5">b</tspan><tspan dy="-2.5" dx="0.5">|</tspan></text>
<text x="282.4" y="926.7" style="font-family:'Liberation Serif',serif;font-size:20.4px;fill:#000">|<tspan font-style="italic">P</tspan><tspan font-style="italic" font-size="13.9" dy="2.5" dx="-2.6">f</tspan><tspan dy="-2.5" dx="0.3">|</tspan></text>
<text x="310.9" y="926.7" class="an" style="font-size:20.4px">(mmHg)</text>
<text x="385.9" y="926.7" class="an" style="font-size:20.4px">=</text>
<text x="404.4" y="926.7" class="an" style="font-size:20.4px" letter-spacing="1.2">18.2</text>
<text x="282.4" y="949.5" style="font-family:'Liberation Serif',serif;font-size:20.4px;fill:#000">|<tspan font-style="italic">P</tspan><tspan font-style="italic" font-size="13.9" dy="2.5">b</tspan><tspan dy="-2.5" dx="0.5">|</tspan></text>
<text x="314" y="949.5" class="an" style="font-size:20.4px">(mmHg)</text>
<text x="389.2" y="949.5" class="an" style="font-size:20.4px">=</text>
<text x="407.4" y="949.5" class="an" style="font-size:20.4px" letter-spacing="1.2">11.1</text>
<text x="282.4" y="975.2" class="an" style="font-size:20.4px">RM</text>
<text x="319.2" y="975.2" class="an" style="font-size:20.4px">=</text>
<text x="336.9" y="975.2" class="an" style="font-size:20.4px" letter-spacing="1.6">0.610</text>
<text x="282.4" y="998.1" class="an" style="font-size:20.4px">RI</text>
<text x="307.8" y="998.1" class="an" style="font-size:20.4px">=</text>
<text x="325.4" y="998.1" class="an" style="font-size:20.4px" letter-spacing="1.6">0.379</text></g>
<g id="cJ"><line x1="563" y1="1173" x2="974" y2="1173" stroke="#000" stroke-width="3.2" />
<path d="M564.5,1155.2 L573.4,1159.6 L580.1,1166.3 L589.1,1166.8 L598,1170.8" fill="none" stroke="#a600ff" stroke-width="2.0" stroke-linejoin="round" stroke-linecap="round" />
<path d="M598,1170.8 L602.5,1176.4 L608.1,1157.4 L613.7,1137.2 L619.3,1144 L627.1,1166.3 L637.2,1132.8 L645,1112.6 L654,1094.7 L667.4,1072.3 L678.6,1064.5 L687.6,1056.7 L698.8,1059.4 L712.2,1065.6 L724.5,1072.3 L736.8,1065.6" fill="none" stroke="#ff00ff" stroke-width="2.0" stroke-linejoin="round" stroke-linecap="round" />
<path d="M736.8,1065.6 L740,1062.9 L744.6,1050.8 L749.1,1043.2 L755.2,1042.4 L759.7,1031 L767.3,1026.5 L775.7,1022.7 L781,1024.2 L787.1,1023.1 L796.2,1030.2 L805.3,1032.5 L814.4,1037.8 L820.5,1046.2 L829.6,1053.8 L835.7,1064.4 L843.3,1072 L847.8,1081.1 L853.9,1085.7 L860,1097.8 L867.6,1105.4 L876.7,1113 L885.8,1125.2 L894.9,1133.5 L901,1135 L908.6,1141.1 L922.3,1145.7 L931.4,1147.2 L937.4,1150.2 L940.5,1148.7 L946.6,1149.5 L950.4,1151.8 L952.6,1151" fill="none" stroke="#a600ff" stroke-width="2.0" stroke-linejoin="round" stroke-linecap="round" />
<path d="M598,1170.8 L601.4,1150.7 L604.8,1112.6 L608.1,1067.9 L611.5,1034.3 L614.8,1000.7 L619.3,967.1 L622.7,949.2 L627.1,928 L631.6,921.3 L637.2,912.3 L642.8,910.1 L650.6,906.3 L658.5,911.2 L665.2,914.5 L671.9,922.4 L676.4,931.3 L685.3,941.4 L694.3,960.4 L703.2,982.8 L712.2,1003 L718.9,1023.1 L725.6,1043.2 L736.8,1063.4" fill="none" stroke="#0000ff" stroke-width="2.0" stroke-linejoin="round" stroke-linecap="round" />
<path d="M652,906.5V952.2" stroke="#2d58d0" stroke-width="3.0" fill="none"/><path d="M643.4,952.2L660.6,952.2L652,968.6Z" fill="#2d58d0"/>
<path d="M652,1172V1065.6" stroke="#2d58d0" stroke-width="3.0" fill="none"/><path d="M643.4,1065.6L660.6,1065.6L652,1049.6Z" fill="#2d58d0"/>
<path d="M776.1,1023V1047" stroke="#cc4fab" stroke-width="3.0" fill="none"/><path d="M767.6,1047L784.6,1047L776.1,1062.9Z" fill="#cc4fab"/>
<path d="M776.1,1172V1123.7" stroke="#cc4fab" stroke-width="3.0" fill="none"/><path d="M767.6,1123.7L784.6,1123.7L776.1,1107.7Z" fill="#cc4fab"/>
<text x="637" y="1017.5" style="font-family:'Liberation Serif',serif;font-size:18.5px;fill:#2d58d0">|<tspan font-style="italic">P</tspan><tspan font-style="italic" font-size="12.6" dy="2.5" dx="-2.6">f</tspan><tspan dy="-2.5" dx="0.3">|</tspan></text>
<text x="763.3" y="1091.8" style="font-family:'Liberation Serif',serif;font-size:18.5px;fill:#cc4fab">|<tspan font-style="italic">P</tspan><tspan font-style="italic" font-size="12.6" dy="2.5">b</tspan><tspan dy="-2.5" dx="0.5">|</tspan></text>
<text x="781" y="933.1" style="font-family:'Liberation Serif',serif;font-size:20.4px;fill:#000">|<tspan font-style="italic">P</tspan><tspan font-style="italic" font-size="13.9" dy="2.5" dx="-2.6">f</tspan><tspan dy="-2.5" dx="0.3">|</tspan></text>
<text x="809.5" y="933.1" class="an" style="font-size:20.4px">(mmHg)</text>
<text x="884.5" y="933.1" class="an" style="font-size:20.4px">=</text>
<text x="903" y="933.1" class="an" style="font-size:20.4px" letter-spacing="1.2">28.6</text>
<text x="781" y="956.9" style="font-family:'Liberation Serif',serif;font-size:20.4px;fill:#000">|<tspan font-style="italic">P</tspan><tspan font-style="italic" font-size="13.9" dy="2.5">b</tspan><tspan dy="-2.5" dx="0.5">|</tspan></text>
<text x="812.6" y="956.9" class="an" style="font-size:20.4px">(mmHg)</text>
<text x="887.8" y="956.9" class="an" style="font-size:20.4px">=</text>
<text x="906" y="956.9" class="an" style="font-size:20.4px" letter-spacing="1.2">16.2</text>
<text x="781" y="982.6" class="an" style="font-size:20.4px">RM</text>
<text x="817.8" y="982.6" class="an" style="font-size:20.4px">=</text>
<text x="835.5" y="982.6" class="an" style="font-size:20.4px" letter-spacing="1.6">0.565</text>
<text x="781" y="1005.5" class="an" style="font-size:20.4px">RI</text>
<text x="806.4" y="1005.5" class="an" style="font-size:20.4px">=</text>
<text x="824" y="1005.5" class="an" style="font-size:20.4px" letter-spacing="1.6">0.361</text></g>
<g id="cK"><line x1="1069.5" y1="1169.9" x2="1481" y2="1169.9" stroke="#000" stroke-width="3.2" />
<path d="M1070.2,1141.2 L1078.8,1146.6 L1087.4,1155.3 L1098.2,1163.9 L1105.8,1161.7 L1112.2,1167.1 L1114.4,1168.2" fill="none" stroke="#a600ff" stroke-width="2.0" stroke-linejoin="round" stroke-linecap="round" />
<path d="M1114.4,1168.2 L1117.6,1172.5 L1123,1155.3 L1128.4,1140.2 L1134.9,1148.8 L1143.5,1167.1 L1154.3,1135.8 L1165.1,1112.1 L1175.9,1092.7 L1186.7,1077.6 L1199.7,1068.9 L1208.3,1071.1 L1214.8,1071.1 L1220.2,1080.8 L1226.6,1077.6 L1237.4,1079.7 L1244.6,1083.6" fill="none" stroke="#ff00ff" stroke-width="2.0" stroke-linejoin="round" stroke-linecap="round" />
<path d="M1244.6,1083.6 L1248.6,1077.7 L1254.4,1065.5 L1261.6,1059 L1268.8,1049.6 L1276,1043.9 L1284.6,1036.7 L1291.1,1037.7 L1298.3,1034.5 L1303.3,1038.8 L1308.3,1041 L1314.8,1038.1 L1320.6,1043.2 L1327.8,1047.5 L1335,1059.7 L1343.6,1064.7 L1355.1,1083.5 L1366.6,1095 L1376.7,1115.1 L1386.8,1124.5 L1395.4,1130.9 L1404,1138.8 L1409.8,1139.6 L1417,1148.9 L1424.2,1146.8 L1431.4,1152.2 L1435.7,1152.5 L1441.4,1156.8 L1447.2,1153.2 L1454.4,1156.8 L1461.6,1154.4 L1468.8,1154.7 L1474.5,1159.7" fill="none" stroke="#a600ff" stroke-width="2.0" stroke-linejoin="round" stroke-linecap="round" />
<path d="M1114.4,1168.2 L1117.6,1146.6 L1120.9,1114.3 L1124.1,1075.4 L1128.4,1027.9 L1132.8,1002 L1138.1,971.8 L1142.5,947 L1147.9,940.5 L1156.5,934 L1165.1,931.9 L1175.9,936.2 L1185.6,943.7 L1193.2,954.5 L1199.7,963.2 L1208.3,982.6 L1214.8,995.5 L1221.2,1023.6 L1227.7,1032.2 L1232,1045.2 L1238.5,1060.3 L1244.6,1077.6" fill="none" stroke="#0000ff" stroke-width="2.0" stroke-linejoin="round" stroke-linecap="round" />
<path d="M1165.6,932.2V984.8" stroke="#2d58d0" stroke-width="3.0" fill="none"/><path d="M1157.5,984.8L1173.7,984.8L1165.6,1002Z" fill="#2d58d0"/>
<path d="M1165.6,1169V1080.8" stroke="#2d58d0" stroke-width="3.0" fill="none"/><path d="M1157.5,1080.8L1173.7,1080.8L1165.6,1064.2Z" fill="#2d58d0"/>
<path d="M1299,1034.8V1061.9" stroke="#cc4fab" stroke-width="3.0" fill="none"/><path d="M1290.8,1061.9L1307.2,1061.9L1299,1077Z" fill="#cc4fab"/>
<path d="M1299,1169V1137.4" stroke="#cc4fab" stroke-width="3.0" fill="none"/><path d="M1290.8,1137.4L1307.2,1137.4L1299,1122.3Z" fill="#cc4fab"/>
<text x="1153.1" y="1037.6" style="font-family:'Liberation Serif',serif;font-size:18.5px;fill:#2d58d0">|<tspan font-style="italic">P</tspan><tspan font-style="italic" font-size="12.6" dy="2.5" dx="-2.6">f</tspan><tspan dy="-2.5" dx="0.3">|</tspan></text>
<text x="1285.1" y="1102.2" style="font-family:'Liberation Serif',serif;font-size:18.5px;fill:#cc4fab">|<tspan font-style="italic">P</tspan><tspan font-style="italic" font-size="12.6" dy="2.5">b</tspan><tspan dy="-2.5" dx="0.5">|</tspan></text>
<text x="1275.5" y="940.7" style="font-family:'Liberation Serif',serif;font-size:20.4px;fill:#000">|<tspan font-style="italic">P</tspan><tspan font-style="italic" font-size="13.9" dy="2.5" dx="-2.6">f</tspan><tspan dy="-2.5" dx="0.3">|</tspan></text>
<text x="1304" y="940.7" class="an" style="font-size:20.4px">(mmHg)</text>
<text x="1379" y="940.7" class="an" style="font-size:20.4px">=</text>
<text x="1397.5" y="940.7" class="an" style="font-size:20.4px" letter-spacing="1.2">22.0</text>
<text x="1275.5" y="963.6" style="font-family:'Liberation Serif',serif;font-size:20.4px;fill:#000">|<tspan font-style="italic">P</tspan><tspan font-style="italic" font-size="13.9" dy="2.5">b</tspan><tspan dy="-2.5" dx="0.5">|</tspan></text>
<text x="1307.1" y="963.6" class="an" style="font-size:20.4px">(mmHg)</text>
<text x="1382.3" y="963.6" class="an" style="font-size:20.4px">=</text>
<text x="1400.5" y="963.6" class="an" style="font-size:20.4px" letter-spacing="1.2">12.5</text>
<text x="1275.5" y="988.8" class="an" style="font-size:20.4px">RM</text>
<text x="1312.3" y="988.8" class="an" style="font-size:20.4px">=</text>
<text x="1330" y="988.8" class="an" style="font-size:20.4px" letter-spacing="1.6">0.569</text>
<text x="1275.5" y="1012.9" class="an" style="font-size:20.4px">RI</text>
<text x="1300.9" y="1012.9" class="an" style="font-size:20.4px">=</text>
<text x="1318.5" y="1012.9" class="an" style="font-size:20.4px" letter-spacing="1.6">0.363</text></g>
<g id="cL"><line x1="1572" y1="1167" x2="1984" y2="1167" stroke="#000" stroke-width="3.2" />
<path d="M1573.4,1152.9 L1581.2,1152.9 L1587.9,1157.4 L1594.6,1161.9 L1610.3,1163.7 L1615.9,1166.3" fill="none" stroke="#a600ff" stroke-width="2.0" stroke-linejoin="round" stroke-linecap="round" />
<path d="M1615.9,1166.3 L1620.4,1174.2 L1626,1165.2 L1633.8,1144 L1639.4,1141.7 L1648.3,1137.2 L1655,1112.6 L1661.8,1090.2 L1668.5,1070.1 L1675.2,1056.7 L1681.9,1045.5 L1693.1,1034.3 L1704.3,1025.3 L1717.7,1022 L1726.7,1023.5 L1736.7,1020.9 L1749.1,1024.2 L1755.8,1034.3 L1761.4,1045.9" fill="none" stroke="#ff00ff" stroke-width="2.0" stroke-linejoin="round" stroke-linecap="round" />
<path d="M1761.4,1045.9 L1767.6,1035.6 L1775.2,1028 L1782.8,1018.9 L1793.4,1009 L1806.3,1005.2 L1814.7,1008.2 L1823.8,1009.7 L1831.4,1014.3 L1837.5,1021.1 L1842,1024.2 L1851.1,1035.6 L1860.2,1047.7 L1866.3,1055.3 L1877,1067.5 L1884.5,1079.6 L1892.1,1087.2 L1901.3,1100.9 L1908.8,1106.9 L1918,1118.3 L1924,1120.9 L1931.6,1129.7 L1940.7,1135.8 L1948.3,1142.6 L1957.4,1148.7 L1966.6,1148.7 L1971.1,1152.5" fill="none" stroke="#a600ff" stroke-width="2.0" stroke-linejoin="round" stroke-linecap="round" />
<path d="M1615.9,1166.3 L1620.4,1146.2 L1624.8,1112.6 L1629.3,1074.6 L1633.8,1034.3 L1638.3,1005.2 L1642.7,973.9 L1647.2,942.5 L1650.6,929.1 L1656.2,916.8 L1664,906.7 L1670,901 L1676.7,897.6 L1684.1,902.2 L1695.3,911.2 L1704.3,920.1 L1715.5,933.6 L1724.4,951.5 L1735.6,969.4 L1744.6,987.3 L1751.3,1000.7 L1755.8,1023.1 L1760.2,1045.5" fill="none" stroke="#0000ff" stroke-width="2.0" stroke-linejoin="round" stroke-linecap="round" />
<path d="M1679.7,898V941.4" stroke="#2d58d0" stroke-width="3.0" fill="none"/><path d="M1671.3,941.4L1688.1,941.4L1679.7,957.1Z" fill="#2d58d0"/>
<path d="M1679.7,1166V1079" stroke="#2d58d0" stroke-width="3.0" fill="none"/><path d="M1671.3,1079L1688.1,1079L1679.7,1063.4Z" fill="#2d58d0"/>
<path d="M1807.1,1005.5V1029.5" stroke="#cc4fab" stroke-width="3.0" fill="none"/><path d="M1798.8,1029.5L1815.4,1029.5L1807.1,1045.4Z" fill="#cc4fab"/>
<path d="M1810.1,1166V1108.5" stroke="#cc4fab" stroke-width="3.0" fill="none"/><path d="M1801.8,1108.5L1818.4,1108.5L1810.1,1092.5Z" fill="#cc4fab"/>
<text x="1667.2" y="998.5" style="font-family:'Liberation Serif',serif;font-size:18.5px;fill:#2d58d0">|<tspan font-style="italic">P</tspan><tspan font-style="italic" font-size="12.6" dy="2.5" dx="-2.6">f</tspan><tspan dy="-2.5" dx="0.3">|</tspan></text>
<text x="1792.5" y="1075.8" style="font-family:'Liberation Serif',serif;font-size:18.5px;fill:#cc4fab">|<tspan font-style="italic">P</tspan><tspan font-style="italic" font-size="12.6" dy="2.5">b</tspan><tspan dy="-2.5" dx="0.5">|</tspan></text>
<text x="1794.5" y="921.7" style="font-family:'Liberation Serif',serif;font-size:20.4px;fill:#000">|<tspan font-style="italic">P</tspan><tspan font-style="italic" font-size="13.9" dy="2.5" dx="-2.6">f</tspan><tspan dy="-2.5" dx="0.3">|</tspan></text>
<text x="1823" y="921.7" class="an" style="font-size:20.4px">(mmHg)</text>
<text x="1898" y="921.7" class="an" style="font-size:20.4px">=</text>
<text x="1916.5" y="921.7" class="an" style="font-size:20.4px" letter-spacing="1.2">24.7</text>
<text x="1794.5" y="944.5" style="font-family:'Liberation Serif',serif;font-size:20.4px;fill:#000">|<tspan font-style="italic">P</tspan><tspan font-style="italic" font-size="13.9" dy="2.5">b</tspan><tspan dy="-2.5" dx="0.5">|</tspan></text>
<text x="1826.1" y="944.5" class="an" style="font-size:20.4px">(mmHg)</text>
<text x="1901.3" y="944.5" class="an" style="font-size:20.4px">=</text>
<text x="1919.5" y="944.5" class="an" style="font-size:20.4px" letter-spacing="1.2">13.2</text>
<text x="1794.5" y="970.2" class="an" style="font-size:20.4px">RM</text>
<text x="1831.3" y="970.2" class="an" style="font-size:20.4px">=</text>
<text x="1849" y="970.2" class="an" style="font-size:20.4px" letter-spacing="1.6">0.537</text>
<text x="1794.5" y="993.6" class="an" style="font-size:20.4px">RI</text>
<text x="1819.9" y="993.6" class="an" style="font-size:20.4px">=</text>
<text x="1837.5" y="993.6" class="an" style="font-size:20.4px" letter-spacing="1.6">0.349</text></g>
</svg>
</body></html>
